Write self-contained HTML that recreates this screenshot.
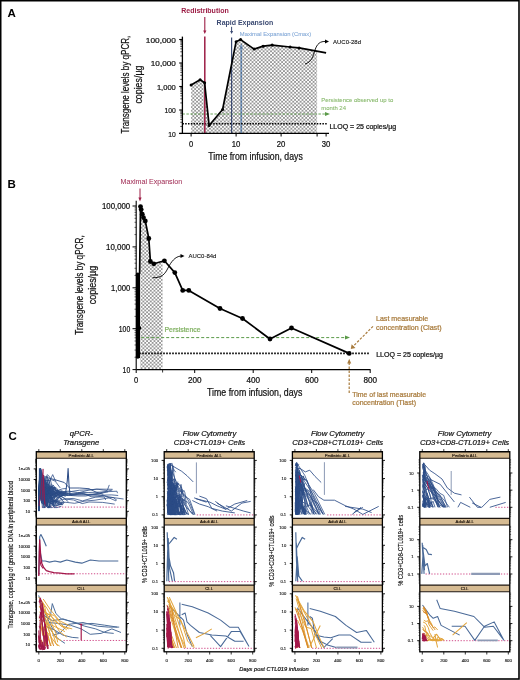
<!DOCTYPE html>
<html><head><meta charset="utf-8"><style>
html,body{margin:0;padding:0;background:#fff;}
svg{display:block;font-family:"Liberation Sans",sans-serif;will-change:transform;}
</style></head><body>
<svg width="520" height="680" viewBox="0 0 520 680">
<defs>
<pattern id="dots" width="3.7" height="3.6" patternUnits="userSpaceOnUse">
<circle cx="0.925" cy="0.9" r="0.75" fill="#111"/><circle cx="2.775" cy="2.7" r="0.75" fill="#111"/>
</pattern>
</defs>
<rect x="0" y="0" width="520" height="680" fill="#fff"/>
<text x="7.6" y="17.3" font-size="11.5" font-weight="bold" fill="#000">A</text>
<line x1="241.20" y1="46.00" x2="241.20" y2="133.50" stroke="#80a7d6" stroke-width="1.6"/>
<path d="M239.4,49 L243.0,49 L241.2,43 Z" fill="#80a7d6"/>
<path d="M191.10,84.99 L200.10,79.68 L204.60,82.78 L209.10,125.45 L222.60,109.50 L236.10,41.65 L240.60,39.60 L254.10,49.11 L263.10,46.17 L272.10,45.06 L290.10,46.99 L299.10,47.88 L317.10,51.22 L317.10,133.50 L191.10,133.50" stroke="none" stroke-width="0" fill="url(#dots)"/>
<line x1="182.40" y1="123.80" x2="327.50" y2="123.80" stroke="#000" stroke-width="1.6" stroke-dasharray="1.5,1.3"/>
<line x1="182.40" y1="114.00" x2="326.00" y2="114.00" stroke="#5a9a48" stroke-width="0.9" stroke-dasharray="2.5,1.5"/>
<path d="M325,112 L330,114 L325,116 Z" fill="#5a9a48"/>
<line x1="204.80" y1="36.50" x2="204.80" y2="133.50" stroke="#9c1d45" stroke-width="1.5"/>
<line x1="204.80" y1="17.00" x2="204.80" y2="31.00" stroke="#9c1d45" stroke-width="1.1"/>
<path d="M203.2,30.5 L206.4,30.5 L204.8,34 Z" fill="#9c1d45"/>
<line x1="231.60" y1="37.40" x2="231.60" y2="133.50" stroke="#3b4a72" stroke-width="1.2"/>
<line x1="231.60" y1="26.80" x2="231.60" y2="31.50" stroke="#3b4a72" stroke-width="1.0"/>
<path d="M230.1,31 L233.1,31 L231.6,34 Z" fill="#3b4a72"/>
<path d="M191.10,84.99 L200.10,79.68 L204.60,82.78 L209.10,125.45 L222.60,109.50 L236.10,41.65 L240.60,39.60 L254.10,49.11 L263.10,46.17 L272.10,45.06 L290.10,46.99 L299.10,47.88 L326.10,52.90" stroke="#000" stroke-width="1.7" fill="none" stroke-linejoin="round"/>
<circle cx="191.10" cy="84.99" r="1.5" fill="#000"/>
<circle cx="200.10" cy="79.68" r="1.5" fill="#000"/>
<circle cx="204.60" cy="82.78" r="1.5" fill="#000"/>
<circle cx="209.10" cy="125.45" r="1.5" fill="#000"/>
<circle cx="222.60" cy="109.50" r="1.5" fill="#000"/>
<circle cx="236.10" cy="41.65" r="1.5" fill="#000"/>
<circle cx="240.60" cy="39.60" r="1.5" fill="#000"/>
<circle cx="254.10" cy="49.11" r="1.5" fill="#000"/>
<circle cx="263.10" cy="46.17" r="1.5" fill="#000"/>
<circle cx="272.10" cy="45.06" r="1.5" fill="#000"/>
<circle cx="290.10" cy="46.99" r="1.5" fill="#000"/>
<circle cx="299.10" cy="47.88" r="1.5" fill="#000"/>
<line x1="182.40" y1="36.60" x2="182.40" y2="133.40" stroke="#000" stroke-width="1.3"/>
<line x1="179.20" y1="133.40" x2="329.00" y2="133.40" stroke="#000" stroke-width="1.2"/>
<line x1="179.20" y1="133.50" x2="182.40" y2="133.50" stroke="#000" stroke-width="1.1"/>
<line x1="180.30" y1="126.43" x2="182.40" y2="126.43" stroke="#000" stroke-width="0.7"/>
<line x1="180.30" y1="122.29" x2="182.40" y2="122.29" stroke="#000" stroke-width="0.7"/>
<line x1="180.30" y1="119.35" x2="182.40" y2="119.35" stroke="#000" stroke-width="0.7"/>
<line x1="180.30" y1="117.07" x2="182.40" y2="117.07" stroke="#000" stroke-width="0.7"/>
<line x1="180.30" y1="115.21" x2="182.40" y2="115.21" stroke="#000" stroke-width="0.7"/>
<line x1="180.30" y1="113.64" x2="182.40" y2="113.64" stroke="#000" stroke-width="0.7"/>
<line x1="180.30" y1="112.28" x2="182.40" y2="112.28" stroke="#000" stroke-width="0.7"/>
<line x1="180.30" y1="111.08" x2="182.40" y2="111.08" stroke="#000" stroke-width="0.7"/>
<line x1="179.20" y1="110.00" x2="182.40" y2="110.00" stroke="#000" stroke-width="1.1"/>
<line x1="180.30" y1="102.93" x2="182.40" y2="102.93" stroke="#000" stroke-width="0.7"/>
<line x1="180.30" y1="98.79" x2="182.40" y2="98.79" stroke="#000" stroke-width="0.7"/>
<line x1="180.30" y1="95.85" x2="182.40" y2="95.85" stroke="#000" stroke-width="0.7"/>
<line x1="180.30" y1="93.57" x2="182.40" y2="93.57" stroke="#000" stroke-width="0.7"/>
<line x1="180.30" y1="91.71" x2="182.40" y2="91.71" stroke="#000" stroke-width="0.7"/>
<line x1="180.30" y1="90.14" x2="182.40" y2="90.14" stroke="#000" stroke-width="0.7"/>
<line x1="180.30" y1="88.78" x2="182.40" y2="88.78" stroke="#000" stroke-width="0.7"/>
<line x1="180.30" y1="87.58" x2="182.40" y2="87.58" stroke="#000" stroke-width="0.7"/>
<line x1="179.20" y1="86.50" x2="182.40" y2="86.50" stroke="#000" stroke-width="1.1"/>
<line x1="180.30" y1="79.43" x2="182.40" y2="79.43" stroke="#000" stroke-width="0.7"/>
<line x1="180.30" y1="75.29" x2="182.40" y2="75.29" stroke="#000" stroke-width="0.7"/>
<line x1="180.30" y1="72.35" x2="182.40" y2="72.35" stroke="#000" stroke-width="0.7"/>
<line x1="180.30" y1="70.07" x2="182.40" y2="70.07" stroke="#000" stroke-width="0.7"/>
<line x1="180.30" y1="68.21" x2="182.40" y2="68.21" stroke="#000" stroke-width="0.7"/>
<line x1="180.30" y1="66.64" x2="182.40" y2="66.64" stroke="#000" stroke-width="0.7"/>
<line x1="180.30" y1="65.28" x2="182.40" y2="65.28" stroke="#000" stroke-width="0.7"/>
<line x1="180.30" y1="64.08" x2="182.40" y2="64.08" stroke="#000" stroke-width="0.7"/>
<line x1="179.20" y1="63.00" x2="182.40" y2="63.00" stroke="#000" stroke-width="1.1"/>
<line x1="180.30" y1="55.93" x2="182.40" y2="55.93" stroke="#000" stroke-width="0.7"/>
<line x1="180.30" y1="51.79" x2="182.40" y2="51.79" stroke="#000" stroke-width="0.7"/>
<line x1="180.30" y1="48.85" x2="182.40" y2="48.85" stroke="#000" stroke-width="0.7"/>
<line x1="180.30" y1="46.57" x2="182.40" y2="46.57" stroke="#000" stroke-width="0.7"/>
<line x1="180.30" y1="44.71" x2="182.40" y2="44.71" stroke="#000" stroke-width="0.7"/>
<line x1="180.30" y1="43.14" x2="182.40" y2="43.14" stroke="#000" stroke-width="0.7"/>
<line x1="180.30" y1="41.78" x2="182.40" y2="41.78" stroke="#000" stroke-width="0.7"/>
<line x1="180.30" y1="40.58" x2="182.40" y2="40.58" stroke="#000" stroke-width="0.7"/>
<line x1="179.20" y1="39.50" x2="182.40" y2="39.50" stroke="#000" stroke-width="1.1"/>
<text x="175.8" y="136.5" font-size="8.0" text-anchor="end" fill="#111" textLength="7.5" lengthAdjust="spacingAndGlyphs" stroke="#111" stroke-width="0.22">10</text>
<text x="175.8" y="113.0" font-size="8.0" text-anchor="end" fill="#111" textLength="11.3" lengthAdjust="spacingAndGlyphs" stroke="#111" stroke-width="0.22">100</text>
<text x="175.8" y="89.5" font-size="8.0" text-anchor="end" fill="#111" textLength="18.9" lengthAdjust="spacingAndGlyphs" stroke="#111" stroke-width="0.22">1,000</text>
<text x="175.8" y="66.0" font-size="8.0" text-anchor="end" fill="#111" textLength="25.0" lengthAdjust="spacingAndGlyphs" stroke="#111" stroke-width="0.22">10,000</text>
<text x="175.8" y="42.5" font-size="8.0" text-anchor="end" fill="#111" textLength="30.0" lengthAdjust="spacingAndGlyphs" stroke="#111" stroke-width="0.22">100,000</text>
<line x1="191.10" y1="133.50" x2="191.10" y2="136.50" stroke="#000" stroke-width="1.0"/>
<text x="191.1" y="146.5" font-size="8.3" text-anchor="middle" fill="#111" textLength="4.2" lengthAdjust="spacingAndGlyphs" stroke="#111" stroke-width="0.22">0</text>
<line x1="236.10" y1="133.50" x2="236.10" y2="136.50" stroke="#000" stroke-width="1.0"/>
<text x="236.1" y="146.5" font-size="8.3" text-anchor="middle" fill="#111" textLength="8.6" lengthAdjust="spacingAndGlyphs" stroke="#111" stroke-width="0.22">10</text>
<line x1="281.10" y1="133.50" x2="281.10" y2="136.50" stroke="#000" stroke-width="1.0"/>
<text x="281.1" y="146.5" font-size="8.3" text-anchor="middle" fill="#111" textLength="8.6" lengthAdjust="spacingAndGlyphs" stroke="#111" stroke-width="0.22">20</text>
<line x1="326.10" y1="133.50" x2="326.10" y2="136.50" stroke="#000" stroke-width="1.0"/>
<text x="326.1" y="146.5" font-size="8.3" text-anchor="middle" fill="#111" textLength="8.6" lengthAdjust="spacingAndGlyphs" stroke="#111" stroke-width="0.22">30</text>
<line x1="317.10" y1="133.50" x2="317.10" y2="136.50" stroke="#000" stroke-width="1.0"/>
<text x="255.5" y="160" font-size="10" text-anchor="middle" fill="#111" textLength="94.5" lengthAdjust="spacingAndGlyphs" stroke="#111" stroke-width="0.22">Time from infusion, days</text>
<g transform="translate(129.2,84.6) rotate(-90)">
<text x="0" y="0" font-size="10.2" text-anchor="middle" fill="#111" textLength="97.8" lengthAdjust="spacingAndGlyphs" stroke="#111" stroke-width="0.22">Transgene levels by qPCR,</text>
<text x="0" y="12.4" font-size="10.2" text-anchor="middle" fill="#111" textLength="38" lengthAdjust="spacingAndGlyphs" stroke="#111" stroke-width="0.22">copies/µg</text>
</g>
<text x="181.2" y="13.1" font-size="7" font-weight="bold" fill="#9c1d45" textLength="47.6" lengthAdjust="spacingAndGlyphs">Redistribution</text>
<text x="216.6" y="24.7" font-size="7" font-weight="bold" fill="#3b4a72" textLength="56.6" lengthAdjust="spacingAndGlyphs">Rapid Expansion</text>
<text x="239.8" y="35.8" font-size="5.9" fill="#80a7d6" textLength="71.4" lengthAdjust="spacingAndGlyphs" stroke="#80a7d6" stroke-width="0.08">Maximal Expansion (Cmax)</text>
<text x="333" y="43.8" font-size="5.6" fill="#111" textLength="28" lengthAdjust="spacingAndGlyphs" stroke="#111" stroke-width="0.1">AUC0-28d</text>
<path d="M305,64 C312,62 313,56 315,50 C317,44 320,41 326,41.5" stroke="#000" stroke-width="0.9" fill="none"/>
<path d="M325,39.5 L329,41.5 L325,43.5 Z" fill="#000"/>
<text x="321.2" y="102" font-size="5.9" fill="#86b86a" textLength="72" lengthAdjust="spacingAndGlyphs" stroke="#86b86a" stroke-width="0.08">Persistence observed up to</text>
<text x="321.2" y="109.7" font-size="5.9" fill="#86b86a" textLength="24.8" lengthAdjust="spacingAndGlyphs" stroke="#86b86a" stroke-width="0.08">month 24</text>
<text x="329.4" y="128.6" font-size="6.9" fill="#111" textLength="66.8" lengthAdjust="spacingAndGlyphs" stroke="#111" stroke-width="0.22">LLOQ = 25 copies/µg</text>
<text x="7.6" y="187.6" font-size="11.5" font-weight="bold" fill="#000">B</text>
<text x="8.4" y="440.3" font-size="11.5" font-weight="bold" fill="#000">C</text>
<path d="M140.20,274.00 L140.50,206.60 L141.20,209.60 L142.30,214.20 L143.50,217.70 L145.30,221.00 L148.80,238.50 L150.40,261.50 L153.80,263.80 L162.60,261.31 L162.60,369.60 L140.20,369.60" stroke="none" stroke-width="0" fill="url(#dots)"/>
<line x1="136.20" y1="353.40" x2="369.50" y2="353.40" stroke="#000" stroke-width="1.7" stroke-dasharray="1.6,1.4"/>
<line x1="136.20" y1="337.60" x2="346.00" y2="337.60" stroke="#5a9a48" stroke-width="1.0" stroke-dasharray="3,2"/>
<path d="M345,335.6 L350,337.6 L345,339.6 Z" fill="#5a9a48"/>
<text x="164.5" y="332.3" font-size="7.0" fill="#7fb060" textLength="36" lengthAdjust="spacingAndGlyphs" stroke="#7fb060" stroke-width="0.22">Persistence</text>
<path d="M139.60,274.00 L140.50,206.60 L141.20,209.60 L142.30,214.20 L143.50,217.70 L145.30,221.00 L148.80,238.50 L150.40,261.50 L153.80,263.80 L164.40,260.80 L174.80,272.60 L182.70,290.40 L188.80,290.40 L220.00,308.50 L242.50,318.50 L270.00,339.00 L291.50,328.00 L349.20,353.40" stroke="#000" stroke-width="1.7" fill="none" stroke-linejoin="round"/>
<circle cx="140.50" cy="206.60" r="2.4" fill="#000"/>
<circle cx="141.20" cy="209.60" r="2.4" fill="#000"/>
<circle cx="142.30" cy="214.20" r="2.4" fill="#000"/>
<circle cx="143.50" cy="217.70" r="2.4" fill="#000"/>
<circle cx="145.30" cy="221.00" r="2.4" fill="#000"/>
<circle cx="148.80" cy="238.50" r="2.4" fill="#000"/>
<circle cx="150.40" cy="261.50" r="2.4" fill="#000"/>
<circle cx="153.80" cy="263.80" r="2.4" fill="#000"/>
<circle cx="164.40" cy="260.80" r="2.4" fill="#000"/>
<circle cx="174.80" cy="272.60" r="2.4" fill="#000"/>
<circle cx="182.70" cy="290.40" r="2.4" fill="#000"/>
<circle cx="188.80" cy="290.40" r="2.4" fill="#000"/>
<circle cx="220.00" cy="308.50" r="2.4" fill="#000"/>
<circle cx="242.50" cy="318.50" r="2.4" fill="#000"/>
<circle cx="270.00" cy="339.00" r="2.4" fill="#000"/>
<circle cx="291.50" cy="328.00" r="2.4" fill="#000"/>
<circle cx="349.20" cy="353.40" r="2.4" fill="#000"/>
<rect x="136" y="273" width="4.0" height="85" fill="#000"/>
<circle cx="137.80" cy="274.50" r="2.0" fill="#000"/>
<circle cx="137.80" cy="287.00" r="2.0" fill="#000"/>
<circle cx="139.30" cy="328.00" r="2.0" fill="#000"/>
<circle cx="137.80" cy="356.80" r="2.0" fill="#000"/>
<line x1="136.20" y1="200.80" x2="136.20" y2="369.60" stroke="#000" stroke-width="1.1"/>
<line x1="136.20" y1="369.60" x2="370.50" y2="369.60" stroke="#000" stroke-width="1.1"/>
<line x1="132.50" y1="369.60" x2="136.20" y2="369.60" stroke="#000" stroke-width="1.0"/>
<line x1="134.50" y1="357.29" x2="136.20" y2="357.29" stroke="#000" stroke-width="0.6"/>
<line x1="134.50" y1="350.09" x2="136.20" y2="350.09" stroke="#000" stroke-width="0.6"/>
<line x1="134.50" y1="344.98" x2="136.20" y2="344.98" stroke="#000" stroke-width="0.6"/>
<line x1="134.50" y1="341.01" x2="136.20" y2="341.01" stroke="#000" stroke-width="0.6"/>
<line x1="134.50" y1="337.77" x2="136.20" y2="337.77" stroke="#000" stroke-width="0.6"/>
<line x1="134.50" y1="335.04" x2="136.20" y2="335.04" stroke="#000" stroke-width="0.6"/>
<line x1="134.50" y1="332.66" x2="136.20" y2="332.66" stroke="#000" stroke-width="0.6"/>
<line x1="134.50" y1="330.57" x2="136.20" y2="330.57" stroke="#000" stroke-width="0.6"/>
<line x1="132.50" y1="328.70" x2="136.20" y2="328.70" stroke="#000" stroke-width="1.0"/>
<line x1="134.50" y1="316.39" x2="136.20" y2="316.39" stroke="#000" stroke-width="0.6"/>
<line x1="134.50" y1="309.19" x2="136.20" y2="309.19" stroke="#000" stroke-width="0.6"/>
<line x1="134.50" y1="304.08" x2="136.20" y2="304.08" stroke="#000" stroke-width="0.6"/>
<line x1="134.50" y1="300.11" x2="136.20" y2="300.11" stroke="#000" stroke-width="0.6"/>
<line x1="134.50" y1="296.87" x2="136.20" y2="296.87" stroke="#000" stroke-width="0.6"/>
<line x1="134.50" y1="294.14" x2="136.20" y2="294.14" stroke="#000" stroke-width="0.6"/>
<line x1="134.50" y1="291.76" x2="136.20" y2="291.76" stroke="#000" stroke-width="0.6"/>
<line x1="134.50" y1="289.67" x2="136.20" y2="289.67" stroke="#000" stroke-width="0.6"/>
<line x1="132.50" y1="287.80" x2="136.20" y2="287.80" stroke="#000" stroke-width="1.0"/>
<line x1="134.50" y1="275.49" x2="136.20" y2="275.49" stroke="#000" stroke-width="0.6"/>
<line x1="134.50" y1="268.29" x2="136.20" y2="268.29" stroke="#000" stroke-width="0.6"/>
<line x1="134.50" y1="263.18" x2="136.20" y2="263.18" stroke="#000" stroke-width="0.6"/>
<line x1="134.50" y1="259.21" x2="136.20" y2="259.21" stroke="#000" stroke-width="0.6"/>
<line x1="134.50" y1="255.97" x2="136.20" y2="255.97" stroke="#000" stroke-width="0.6"/>
<line x1="134.50" y1="253.24" x2="136.20" y2="253.24" stroke="#000" stroke-width="0.6"/>
<line x1="134.50" y1="250.86" x2="136.20" y2="250.86" stroke="#000" stroke-width="0.6"/>
<line x1="134.50" y1="248.77" x2="136.20" y2="248.77" stroke="#000" stroke-width="0.6"/>
<line x1="132.50" y1="246.90" x2="136.20" y2="246.90" stroke="#000" stroke-width="1.0"/>
<line x1="134.50" y1="234.59" x2="136.20" y2="234.59" stroke="#000" stroke-width="0.6"/>
<line x1="134.50" y1="227.39" x2="136.20" y2="227.39" stroke="#000" stroke-width="0.6"/>
<line x1="134.50" y1="222.28" x2="136.20" y2="222.28" stroke="#000" stroke-width="0.6"/>
<line x1="134.50" y1="218.31" x2="136.20" y2="218.31" stroke="#000" stroke-width="0.6"/>
<line x1="134.50" y1="215.07" x2="136.20" y2="215.07" stroke="#000" stroke-width="0.6"/>
<line x1="134.50" y1="212.34" x2="136.20" y2="212.34" stroke="#000" stroke-width="0.6"/>
<line x1="134.50" y1="209.96" x2="136.20" y2="209.96" stroke="#000" stroke-width="0.6"/>
<line x1="134.50" y1="207.87" x2="136.20" y2="207.87" stroke="#000" stroke-width="0.6"/>
<line x1="132.50" y1="206.00" x2="136.20" y2="206.00" stroke="#000" stroke-width="1.0"/>
<text x="130.2" y="372.6" font-size="8.3" text-anchor="end" fill="#111" textLength="7.6" lengthAdjust="spacingAndGlyphs" stroke="#111" stroke-width="0.22">10</text>
<text x="130.2" y="331.70000000000005" font-size="8.3" text-anchor="end" fill="#111" textLength="11.4" lengthAdjust="spacingAndGlyphs" stroke="#111" stroke-width="0.22">100</text>
<text x="130.2" y="290.8" font-size="8.3" text-anchor="end" fill="#111" textLength="19.2" lengthAdjust="spacingAndGlyphs" stroke="#111" stroke-width="0.22">1,000</text>
<text x="130.2" y="249.90000000000003" font-size="8.3" text-anchor="end" fill="#111" textLength="24.2" lengthAdjust="spacingAndGlyphs" stroke="#111" stroke-width="0.22">10,000</text>
<text x="130.2" y="209.00000000000003" font-size="8.3" text-anchor="end" fill="#111" textLength="28.2" lengthAdjust="spacingAndGlyphs" stroke="#111" stroke-width="0.22">100,000</text>
<line x1="136.20" y1="369.60" x2="136.20" y2="373.00" stroke="#000" stroke-width="1.0"/>
<text x="136.2" y="383.2" font-size="8.3" text-anchor="middle" fill="#111" textLength="4.2" lengthAdjust="spacingAndGlyphs" stroke="#111" stroke-width="0.22">0</text>
<line x1="194.70" y1="369.60" x2="194.70" y2="373.00" stroke="#000" stroke-width="1.0"/>
<text x="194.7" y="383.2" font-size="8.3" text-anchor="middle" fill="#111" textLength="13.6" lengthAdjust="spacingAndGlyphs" stroke="#111" stroke-width="0.22">200</text>
<line x1="253.20" y1="369.60" x2="253.20" y2="373.00" stroke="#000" stroke-width="1.0"/>
<text x="253.2" y="383.2" font-size="8.3" text-anchor="middle" fill="#111" textLength="13.6" lengthAdjust="spacingAndGlyphs" stroke="#111" stroke-width="0.22">400</text>
<line x1="311.70" y1="369.60" x2="311.70" y2="373.00" stroke="#000" stroke-width="1.0"/>
<text x="311.7" y="383.2" font-size="8.3" text-anchor="middle" fill="#111" textLength="13.6" lengthAdjust="spacingAndGlyphs" stroke="#111" stroke-width="0.22">600</text>
<line x1="370.20" y1="369.60" x2="370.20" y2="373.00" stroke="#000" stroke-width="1.0"/>
<text x="370.2" y="383.2" font-size="8.3" text-anchor="middle" fill="#111" textLength="13.6" lengthAdjust="spacingAndGlyphs" stroke="#111" stroke-width="0.22">800</text>
<line x1="162.60" y1="369.60" x2="162.60" y2="372.50" stroke="#000" stroke-width="0.8"/>
<text x="254.7" y="396.2" font-size="10" text-anchor="middle" fill="#111" textLength="95.3" lengthAdjust="spacingAndGlyphs" stroke="#111" stroke-width="0.22">Time from infusion, days</text>
<g transform="translate(83.3,285) rotate(-90)">
<text x="0" y="0" font-size="10.2" text-anchor="middle" fill="#111" textLength="99.5" lengthAdjust="spacingAndGlyphs" stroke="#111" stroke-width="0.22">Transgene levels by qPCR,</text>
<text x="0" y="12.4" font-size="10.2" text-anchor="middle" fill="#111" textLength="38.5" lengthAdjust="spacingAndGlyphs" stroke="#111" stroke-width="0.22">copies/µg</text>
</g>
<text x="120.6" y="184" font-size="6.6" fill="#a3335a" textLength="61.5" lengthAdjust="spacingAndGlyphs" stroke="#a3335a" stroke-width="0.05">Maximal Expansion</text>
<line x1="140.00" y1="188.50" x2="140.00" y2="198.00" stroke="#9c1d45" stroke-width="1.0"/>
<path d="M138.4,197.5 L141.6,197.5 L140,201.5 Z" fill="#9c1d45"/>
<text x="188.4" y="257.5" font-size="5.6" fill="#111" textLength="28" lengthAdjust="spacingAndGlyphs" stroke="#111" stroke-width="0.1">AUC0-84d</text>
<path d="M152.7,277.7 C162,278 165,274 168,268 C171,262 175,256.5 181,256" stroke="#000" stroke-width="0.9" fill="none"/>
<path d="M180.5,254 L184.5,256 L180.5,258 Z" fill="#000"/>
<text x="376.2" y="357.0" font-size="6.9" fill="#111" textLength="66.8" lengthAdjust="spacingAndGlyphs" stroke="#111" stroke-width="0.22">LLOQ = 25 copies/µg</text>
<text x="376" y="321.4" font-size="6.6" fill="#a97c3e" textLength="52.3" lengthAdjust="spacingAndGlyphs" stroke="#a97c3e" stroke-width="0.22">Last measurable</text>
<text x="376" y="329.9" font-size="6.6" fill="#a97c3e" textLength="65.5" lengthAdjust="spacingAndGlyphs" stroke="#a97c3e" stroke-width="0.22">concentration (Clast)</text>
<text x="352.3" y="396.9" font-size="6.6" fill="#a97c3e" textLength="73.7" lengthAdjust="spacingAndGlyphs" stroke="#a97c3e" stroke-width="0.22">Time of last measurable</text>
<text x="352.3" y="405.4" font-size="6.6" fill="#a97c3e" textLength="63.7" lengthAdjust="spacingAndGlyphs" stroke="#a97c3e" stroke-width="0.22">concentration (Tlast)</text>
<line x1="373.00" y1="326.30" x2="352.50" y2="347.00" stroke="#a97c3e" stroke-width="1.2" stroke-dasharray="2.5,1.5"/>
<path d="M350.8,349 L351.6,344.3 L355.5,348 Z" fill="#a97c3e"/>
<line x1="349.20" y1="393.00" x2="349.20" y2="362.50" stroke="#a97c3e" stroke-width="1.2" stroke-dasharray="2.5,1.5"/>
<path d="M347.2,363.5 L351.2,363.5 L349.2,358.8 Z" fill="#a97c3e"/>
<defs><clipPath id="cp00"><rect x="36.8" y="458.6" width="89.0" height="59.5"/></clipPath><clipPath id="cp01"><rect x="36.8" y="525.3" width="89.0" height="59.5"/></clipPath><clipPath id="cp02"><rect x="36.8" y="592.0" width="89.0" height="59.5"/></clipPath><clipPath id="cp10"><rect x="164.7" y="458.6" width="89.0" height="59.5"/></clipPath><clipPath id="cp11"><rect x="164.7" y="525.3" width="89.0" height="59.5"/></clipPath><clipPath id="cp12"><rect x="164.7" y="592.0" width="89.0" height="59.5"/></clipPath><clipPath id="cp20"><rect x="292.9" y="458.6" width="89.0" height="59.5"/></clipPath><clipPath id="cp21"><rect x="292.9" y="525.3" width="89.0" height="59.5"/></clipPath><clipPath id="cp22"><rect x="292.9" y="592.0" width="89.0" height="59.5"/></clipPath><clipPath id="cp30"><rect x="420.3" y="458.6" width="89.0" height="59.5"/></clipPath><clipPath id="cp31"><rect x="420.3" y="525.3" width="89.0" height="59.5"/></clipPath><clipPath id="cp32"><rect x="420.3" y="592.0" width="89.0" height="59.5"/></clipPath></defs>
<g clip-path="url(#cp00)">
<line x1="38.80" y1="507.08" x2="128.02" y2="507.08" stroke="#cc3a7e" stroke-width="0.9" stroke-dasharray="1.3,1.6"/>
<path d="M38.8,502.9 L40.7,489.0 L41.9,486.2 L43.1,488.9 L44.7,488.6 L46.3,482.7 L48.8,478.5 M39.0,502.9 L39.4,468.4 L40.3,480.1 L41.3,482.5 M39.0,499.2 L39.5,485.9 L40.4,489.5 L41.5,500.5 L43.0,501.7 M38.8,506.0 L40.6,486.1 L41.7,495.2 L43.0,496.5 L44.8,492.4 L46.5,492.4 L48.8,490.3 L52.5,495.5 M38.9,492.7 L40.5,483.1 L41.6,496.3 L43.2,493.6 L44.9,495.2 L47.2,496.8 L50.0,487.6 L52.8,490.8 L56.4,492.7 M39.0,500.8 L39.8,485.2 L40.8,489.5 L42.1,494.3 L43.5,494.5 M38.9,493.0 L40.0,483.9 L41.1,483.8 L42.2,487.1 L43.6,488.0 M38.9,508.2 L40.3,478.2 L41.3,480.7 L42.8,481.1 L44.6,490.2 L46.5,485.9 M38.8,502.8 L40.4,487.8 L41.3,500.2 L42.5,497.5 L43.8,494.3 L45.2,494.6 L47.2,494.3 L49.1,491.3 L51.5,498.7 L54.5,501.4 L57.7,499.2 M39.0,504.7 L40.5,486.9 L41.7,492.6 L42.9,499.6 L44.9,503.5 L47.4,495.8 L50.5,498.4 L53.0,491.5 M39.0,507.8 L40.2,472.9 L41.2,480.7 L42.7,478.7 L44.6,482.9 L46.8,496.9 L49.0,502.2 L51.1,501.7 L53.5,501.6 L58.0,499.6 M38.8,496.0 L40.9,482.3 L42.0,489.8 L43.4,489.5 L45.6,490.4 L48.3,491.0 L50.9,496.8 L53.5,502.0 M38.9,501.2 L40.6,486.1 L41.9,483.6 L43.2,487.6 L45.3,489.8 L47.1,493.6 L49.1,486.1 L51.5,493.2 L55.8,490.5 L59.8,491.5 L65.4,491.7 M38.8,495.4 L40.9,487.0 L42.3,492.4 L43.5,495.2 L45.5,492.9 L47.6,505.5 L49.6,507.5 L53.1,500.7 L57.8,503.4 L62.8,502.1 M38.8,510.9 L39.6,480.3 L40.6,494.7 L41.7,502.9 L43.1,499.4 M38.8,501.1 L40.8,472.8 L41.8,479.0 L43.2,484.5 L44.6,487.3 L46.4,491.6 L49.5,495.8 L52.2,498.0 L55.9,496.7 M39.0,491.3 L40.2,484.3 L41.4,491.7 L42.6,487.5 L43.8,484.9 L45.5,480.4 L48.0,480.7 L51.5,479.7 L55.4,481.2 M38.9,506.6 L40.0,468.9 L41.1,474.4 L42.3,481.8 L43.9,485.8 M38.9,504.1 L40.5,479.9 L41.6,484.1 L42.9,487.2 L44.8,492.0 L46.6,493.2 L48.8,496.8 L52.4,494.3 L56.9,493.6 L62.8,497.4 L68.4,501.7 M38.9,496.5 L39.4,488.1 L40.3,480.7 L41.4,481.0 L42.9,478.0 L44.2,479.5 L46.5,489.3 L49.1,490.3 L52.9,492.5 L56.8,492.7 M38.9,505.7 L40.8,486.1 L42.1,485.5 M39.0,510.9 L39.4,484.5 L40.2,484.9 L41.2,501.1 L42.4,498.9 L44.1,504.2 L46.3,500.4 M39.0,506.7 L39.7,485.0 L40.6,481.2 L41.9,476.9 L43.6,478.5 L45.7,485.6 L47.9,484.1 L50.4,487.4 L53.8,485.7 M39.0,508.0 L39.8,480.2 L40.8,487.5 L42.0,490.6 M38.9,504.2 L39.8,488.2 L40.7,480.9 L42.0,481.1 L43.2,483.9 L45.0,493.7 L47.3,494.3 L49.3,488.3 M38.9,498.7 L40.5,473.1 L41.6,482.1 L43.0,480.1 L44.8,477.2 L46.9,489.0 L49.4,486.8 L53.3,488.5 L58.0,491.8 L61.4,493.0 L67.9,495.4 M38.8,510.6 L39.9,487.1 L41.0,498.5 L42.3,502.1 L43.9,502.4 L46.0,502.2 L48.7,507.6 L51.9,505.7 L54.5,504.7 L57.6,504.9 L61.7,504.0 M39.0,503.2 L40.4,479.4 L41.6,488.8 L43.0,489.3 L44.5,490.8 L46.8,495.1 L48.6,490.0 L50.8,493.3 L54.5,487.6 M39.0,505.2 L40.6,479.7 L41.7,485.2 L43.1,486.1 L44.7,483.6 L47.2,484.3 M38.8,491.3 L40.3,485.4 L41.4,488.9 L42.8,494.3 L44.5,491.4 L46.2,500.1 L49.1,501.9 L51.2,501.9 M38.8,495.9 L39.9,480.8 L40.9,489.0 L42.1,488.6 L43.8,491.9 L45.9,493.6 L47.9,491.0 L51.2,491.8 L53.8,487.1 M38.9,493.6 L40.8,483.7 L42.0,494.5 L43.4,496.2 L45.6,494.7 M38.8,492.7 L39.7,477.8 L40.7,490.7 L41.7,490.0 L43.3,503.6 L45.1,500.9 L46.9,503.5 L49.0,499.9 L52.5,502.3 L55.6,502.5 L60.0,501.6 M39.0,492.1 L39.7,479.0 L40.7,489.3 L41.9,491.8 L43.1,493.1 M38.8,503.5 L39.7,472.1 L40.7,487.8 L41.7,486.8 L43.0,491.5 M38.8,500.6 L40.7,476.1 L41.8,491.4 L43.1,499.9 L45.2,498.2 L47.7,499.4 M38.8,494.2 L40.1,468.5 L41.3,477.6 L42.8,488.0 L44.3,490.4 L46.6,490.6 L49.7,488.5 L52.1,486.4 L56.6,490.8 L62.5,488.8 L66.4,488.5 M38.9,497.6 L39.5,483.3 L40.5,486.2 L41.5,489.5 L42.8,493.6 L44.3,494.5 L46.3,488.7 L48.7,488.7 L52.4,495.0 L56.1,495.8 L59.8,493.5 M38.8,507.2 L40.4,470.4 L41.4,470.4 L42.7,486.3 L44.4,488.8 L46.7,497.6 M38.9,500.6 L40.9,485.5 L42.2,484.4 L43.6,485.9 L45.2,480.3 M38.8,492.3 L40.8,479.3 L42.0,483.4 L43.2,488.2 L45.0,497.1 L46.8,492.5 L49.2,494.4 L51.6,498.6 L54.2,495.8 M38.9,510.6 L39.9,475.3 L40.9,478.7 L42.0,479.7 L43.4,484.1 L45.5,478.3 L47.4,474.6 L49.8,477.1 L52.9,490.5 L55.6,492.8 M38.9,495.7 L40.4,479.5 L41.5,486.0 L42.8,494.7 L44.6,492.9 M39.0,492.3 L39.8,482.6 L40.8,486.6 L41.9,481.1 L43.2,477.1 L45.2,482.3 M39.0,506.3 L40.9,479.5 L42.0,488.7 M39.0,494.3 L40.7,473.7 L41.9,478.8 L43.2,489.1 L45.1,489.7 L46.8,491.7 L49.0,488.0 L51.2,487.2 L54.3,491.4 M38.9,505.7 L39.5,488.2 L40.4,491.5 L41.5,489.2 L42.9,492.5 M38.9,494.8 L39.8,483.6 L40.7,493.7 L41.8,496.0 L43.1,493.6 L44.6,490.6 L46.2,492.9 L48.3,492.5 L51.3,486.6 L54.0,489.9 L56.7,490.6 L62.6,491.0 M38.8,510.2 L40.7,476.7 L41.7,480.3 L43.1,485.0 L45.0,485.1 L47.3,484.1 M38.9,503.5 L39.7,487.0 L40.6,492.0 L41.8,495.3 L43.2,497.0 L45.0,497.1 L46.8,495.1 M38.8,502.6 L40.4,472.4 L41.5,483.8 L42.8,492.5 L44.7,496.6 L46.3,501.2 L49.1,496.1 L51.2,499.8 L55.3,498.2 M39.0,511.2 L40.0,470.0 L41.0,487.8 L42.4,495.7 L43.7,497.3 L45.5,505.7 L47.3,507.6 L50.1,507.6 M39.0,507.7 L40.0,488.6 L41.0,489.6 L42.4,497.2 L43.6,490.6 L45.8,497.6 M39.0,498.1 L39.6,471.7 L40.5,472.0 L41.6,473.1 L42.8,486.3 M39.0,508.0 L39.6,482.1 L40.5,481.1 L41.8,474.6 L43.3,481.8 L44.9,488.0 L47.0,483.6 L49.8,492.2 M38.8,497.3 L40.0,480.2 L41.1,490.0 L42.5,492.7 L44.2,497.6 M38.9,503.7 L40.6,482.0 L41.8,489.2 L43.0,487.3 M39.0,510.1 L39.9,478.9 L40.9,477.3 L42.2,476.4 L43.9,483.7 L45.5,482.8 L48.3,488.3 L51.8,487.0 L56.4,487.9 L59.7,492.7 L63.8,491.8 M38.9,501.6 L40.9,484.4 L42.1,488.9 L43.6,491.5 L45.1,496.5 L47.0,490.2 M38.9,494.7 L40.2,487.5 L41.2,488.7 L42.5,498.0 L44.4,487.9 L46.5,484.0 L48.8,489.5 M38.9,504.3 L39.7,488.3 L40.7,497.1 L41.8,503.4 L43.5,503.8 L45.6,494.5 L48.1,502.0 L51.4,501.8 L55.1,501.0 L59.3,502.2 M38.8,510.8 L39.9,490.0 L40.9,490.4 L42.0,497.2 L43.3,499.4 L45.1,500.1 L47.7,497.6 L50.1,495.2 L53.6,493.1 L58.5,493.2 M38.9,493.9 L40.3,470.2 L41.4,487.1 M38.9,492.1 L40.2,489.1 L41.2,485.7 L42.3,488.3 L43.8,490.5 L45.4,495.3 L47.7,504.3 L50.9,503.6 L53.7,504.4 M39.0,496.1 L40.7,490.0 L41.9,486.9 L43.4,491.9 L44.9,490.9 L46.7,487.1 L49.5,487.7 L53.0,484.9 L56.2,489.5 L61.0,493.1 L66.7,491.5 M38.8,492.3 L40.2,488.2 L41.3,486.8 L42.5,490.4 L44.3,488.3 L46.3,484.2 L48.6,479.6 L52.3,491.6 L56.9,492.6 L61.7,491.9 M38.8,495.9 L39.8,477.4 L40.8,475.4 L41.9,478.4 M38.8,507.9 L40.5,468.3 L41.5,478.5 L42.6,485.3 M38.9,507.1 L40.2,468.9 L41.4,476.8 L42.6,489.7 L44.0,490.2 L46.4,489.8 L49.3,490.6 L52.8,493.2 L57.0,493.8 M38.9,504.5 L39.4,480.7 L40.2,487.9 L41.3,495.8 L42.9,495.0 L44.5,493.6 L46.1,502.0 L48.3,507.6 L50.9,502.5 L54.7,505.7 L60.0,504.8 L63.9,503.5 M38.9,490.6 L40.1,490.0 L41.2,493.6 L42.4,497.6 L44.2,495.7 L45.9,491.0 L47.8,492.9 L50.9,495.1 L54.6,494.2 L57.6,493.0 L63.4,495.4 L70.2,495.5 L77.3,493.1 L89.1,490.0 L96.7,489.1 L107.2,490.6 L109.3,484.9 M39.0,506.3 L40.2,479.8 L41.3,486.5 L42.5,491.7 L43.9,487.7 L46.0,494.8 L47.9,501.2 L50.8,494.7 L53.4,503.1 L56.7,498.2 L60.4,496.6 L67.2,492.3 L72.5,491.3 L79.6,490.2 L89.5,489.8 L98.6,489.1 L112.6,489.3 M39.0,503.2 L40.6,468.2 L41.8,481.4 L43.0,489.2 L44.5,494.6 L46.3,491.7 L49.1,493.4 L52.5,502.3 L56.2,501.4 L59.7,502.1 L65.9,502.3 L74.6,503.3 L84.8,501.1 L95.0,500.2 L111.9,497.4 L123.6,499.0 M38.8,501.7 L40.4,483.1 L41.4,495.8 L42.9,496.7 L44.4,502.2 L46.3,505.7 L48.5,499.7 L51.7,494.9 L55.7,495.0 L61.0,496.1 L68.4,494.1 L73.3,495.0 L83.3,494.9 L97.3,495.3 L111.7,494.9 L118.2,495.5 M38.8,500.2 L40.9,481.0 L42.1,490.4 L43.6,490.7 L45.8,493.6 L47.9,489.4 L50.5,489.0 L52.8,494.3 L57.1,492.6 L61.4,492.5 L68.1,491.1 L77.6,492.5 L88.9,492.5 L99.7,492.1 L116.9,491.2 L117.5,493.2 M39.0,490.9 L40.4,482.2 L41.6,491.9 L42.9,495.8 L44.3,490.9 L46.6,499.2 L48.7,491.5 L51.4,494.0 L54.2,490.5 L57.0,493.5 L61.0,496.5 L65.8,498.9 L73.2,498.4 L82.5,500.9 L95.6,497.1 L104.4,495.8 L116.0,500.9 M39.0,497.9 L39.4,489.8 L40.2,490.5 L41.2,488.8 L42.4,489.1 L43.7,494.4 L45.9,492.8 L48.7,495.3 L51.8,492.7 L56.4,494.9 L61.9,493.2 L68.5,493.7 L75.9,493.2 L87.3,494.5 L99.2,493.7 L108.1,491.8 M38.9,501.4 L40.1,486.9 L41.2,491.1 L42.6,494.7 L44.2,503.1 L46.4,504.7 L48.7,507.6 L50.9,499.0 L54.6,500.2 L59.1,500.4 L65.0,499.0 L73.7,500.0 L82.2,503.6 L89.0,502.0 L102.7,502.4 L114.7,504.1 M38.9,500.2 L39.7,472.9 L40.6,489.3 L41.7,494.5 L43.3,499.6 L44.8,495.0 L46.9,488.4 L49.8,492.0 L52.7,494.9 L56.7,493.9 L61.8,494.4 L68.5,495.3 L77.8,496.0 L85.8,496.0 L92.8,494.5 L106.5,491.4 L112.3,490.0 M38.9,498.0 L40.3,474.6 L41.3,491.6 L42.7,500.3 L44.0,496.0 L45.6,487.4 L48.4,487.9 L51.5,496.1 L55.7,493.1 L60.3,493.6 L65.5,492.4 L71.3,495.2 L81.7,493.8 L88.5,494.4 L96.9,494.5 L113.6,497.7 L117.0,500.4 M38.9,498.8 L40.9,469.2 L42.1,473.3 L43.4,477.4 L44.9,483.6 L47.2,488.1 L49.2,489.1 L53.0,492.1 L55.9,491.1 L59.6,492.7 L65.8,493.9 L73.8,494.3 L83.6,493.5 L91.0,496.7 L104.4,497.1 L105.7,500.0 M38.9,507.3 L40.5,475.9 L41.5,482.4 L42.6,488.2 L43.6,490.5 L44.7,499.7 L46.2,506.0 L48.1,507.6 L49.7,505.3 M39.0,501.3 L40.0,485.1 L40.8,492.3 L41.7,480.7 L42.8,480.3 L44.2,488.1 L46.0,484.2 L48.0,490.7 L50.0,494.0 L52.8,498.9 L55.7,495.2 L59.7,494.0 L62.2,495.0 L65.7,496.4 M38.9,497.2 L40.7,491.5 L41.6,489.0 L42.7,487.8 L44.2,496.4 L45.5,490.0 L47.4,487.9 L49.0,489.6 L50.9,501.8 L53.5,501.0 L55.8,499.9 L58.5,497.4 L62.0,498.8 M39.0,498.5 L39.7,479.1 L40.5,491.4 L41.3,492.2 L42.3,490.5 L43.4,485.8 L44.7,494.2 L46.0,491.7 L47.4,488.7 L48.9,491.4 L51.2,492.5 L53.9,496.6 L56.5,496.8 L58.8,496.7 L63.6,495.3 M39.0,507.1 L40.0,479.0 L40.9,487.3 L41.8,485.4 L42.8,486.6 L43.8,482.3 L45.5,483.4 L47.1,476.1 L48.5,484.7 L50.8,488.8 L53.9,488.1 L56.3,491.3 L60.6,492.1 M38.8,505.0 L39.6,484.6 L40.3,486.9 L41.3,483.7 L42.4,485.4 L43.7,488.5 L45.2,497.6 L46.5,506.2 L47.9,500.4 L50.1,507.6 L52.2,507.6 L54.2,506.0 L56.9,500.7 L60.2,496.3 L63.2,494.2 M38.8,511.1 L39.7,480.1 L40.5,485.9 L41.4,490.4 L42.5,497.0 L43.5,491.3 L44.9,499.9 L46.4,506.2 L48.2,498.1 L50.4,498.2 L52.2,497.7 L55.1,500.9 L59.0,502.5 L62.1,504.0 M39.0,498.0 L39.6,486.5 L40.3,489.0 L41.3,482.5 L42.4,484.3 L43.4,492.8 L44.6,494.0 L45.9,504.9 L48.1,491.3 L50.6,490.3 L53.6,490.6 M38.9,499.7 L40.9,487.2 L41.8,484.3 L42.9,491.4 L44.0,505.7 L45.2,501.2 L46.9,500.5 L49.0,499.7 L51.5,500.8 L53.4,500.3 L56.4,503.2 L59.1,503.7 L63.0,504.8 M38.8,508.1 L40.5,491.1 L41.5,502.2 L42.5,495.9 L43.7,504.9 L44.8,498.2 L46.6,501.3 L48.2,497.0 L50.1,489.3 L51.9,497.1 L53.8,493.1 L56.7,497.0 L59.2,497.0 M39.0,498.3 L39.9,477.5 L40.6,475.2 L41.5,490.4 L42.6,497.6 L43.6,497.6 L45.2,496.0 L46.5,492.4 L48.1,492.6 L49.6,494.3 L52.2,494.0 L55.0,493.9 M38.8,503.0 L39.5,480.3 L40.2,490.0 L41.0,490.5 L41.9,493.2 L43.1,491.3 L44.5,487.8 L46.2,484.3 L47.7,481.9 L49.5,495.4 L51.7,491.1 L54.1,496.4 L57.9,494.6 L60.8,495.2 M39.0,504.4 L40.6,475.6 L41.5,493.0 L42.6,493.8 L43.7,498.9 L45.0,493.1 L46.7,487.9 L48.5,487.0 L50.0,480.4 L52.7,474.6 L56.2,482.5 L60.2,487.9 M38.9,510.8 L39.8,481.3 L40.6,488.7 L41.5,493.4 L42.6,490.1 L43.7,493.0 L45.1,489.0 L47.1,486.7 L49.0,490.1 L51.2,486.5 L53.2,487.6 M39.0,504.8 L39.7,487.3 L40.5,491.3 L41.4,497.5 L42.6,502.2 L43.7,507.6 L45.1,507.6 L46.6,506.0 L48.4,501.8 L50.3,503.1 L52.5,503.7 L55.8,503.5 M38.8,506.8 L39.8,475.5 L40.7,475.7 L41.6,477.6 L42.6,481.3 L43.9,483.0 L45.6,484.5 L47.5,485.2 L49.3,484.5 L51.7,494.6 M39.0,503.1 L40.5,479.7 L41.5,490.8 L42.7,485.1 L43.7,481.2 L45.2,490.3 L47.1,494.4 L49.1,501.4 L51.8,494.6 L54.5,498.1 L57.5,495.3 M39.0,506.6 L40.2,485.6 L41.2,495.5 L42.1,496.8 L43.1,493.8 L44.5,490.8 L45.7,490.0 L47.6,495.3 L50.0,493.6 L52.2,496.4 M39.0,511.1 L40.2,491.4 L41.1,487.8 L42.1,491.3 L43.3,496.9 L44.7,494.3 L46.1,488.6 L47.9,494.1 L49.5,498.7 L51.8,494.9 L54.5,486.8 L57.5,493.5 L60.8,498.9 L64.3,502.4 M38.9,498.3 L39.9,489.3 L40.6,484.0 L41.6,490.7 L42.8,486.8 L43.9,491.3 L45.2,496.6 L46.5,494.9 L48.1,497.7 L49.9,499.9 L52.9,497.5 L55.5,495.4 L59.2,494.5 L61.7,490.7 M38.9,497.9 L40.4,482.3 L41.3,492.7 L42.4,500.7 L43.6,503.2 L44.8,501.5 L46.5,500.0 L48.0,499.3 L50.1,497.4 L52.9,504.9 L54.9,495.7 L57.6,497.7 M38.9,505.7 L39.8,489.3 L40.5,498.8 L41.4,498.9 L42.5,507.6 L43.7,507.6 L45.1,506.1 L47.0,503.8 L49.3,507.6 L51.9,496.8 L54.2,507.6 L57.1,507.6 L61.5,506.1 M38.9,507.8 L40.7,487.0 L41.6,486.0 L42.6,485.2 L43.8,477.9 L45.2,480.4 L46.7,482.6 L48.4,485.6 L50.9,488.9 L53.1,491.9 L55.6,492.9 L58.2,492.2 L61.4,493.6 M38.9,500.1 L39.8,490.6 L40.6,490.4 L41.5,493.8 L42.6,501.9 L43.7,490.3 L45.3,494.5 L46.9,493.9 L48.4,494.4 L51.0,497.3 M38.8,505.4 L40.3,488.0 L41.2,496.5 L42.3,499.4 L43.4,503.6 L44.6,507.6 L46.1,503.0 L48.1,501.0 L49.9,502.5 L52.3,504.2 L54.8,507.4 L57.0,505.4 L60.0,504.0 L64.3,502.4" stroke="#2c4c86" stroke-width="0.78" fill="none" stroke-opacity="1.0" stroke-linejoin="round"/>
<path d="M63.5,494.3 L65.7,492.2 L67.3,480.6 L68.1,468.4 L69.0,484.8 L70.0,494.3 L72.1,495.4" stroke="#2c4c86" stroke-width="1.04" fill="none" stroke-opacity="1.0" stroke-linejoin="round"/>
<path d="M40.9,474.2 L46.5,477.4 L56.0,480.0 L64.3,482.5 L69.5,488.0 L79.7,488.0 L89.0,488.7 L96.2,492.2 L103.3,494.3" stroke="#2c4c86" stroke-width="0.91" fill="none" stroke-opacity="1.0" stroke-linejoin="round"/>
<path d="M39.0,506.0 L43.1,468.9 L43.7,488.0 L44.4,500.7 L45.2,506.0 M42.0,500.7 L43.5,475.3 L44.2,494.3 L45.0,503.9" stroke="#a3174a" stroke-width="0.78" fill="none" stroke-opacity="0.9" stroke-linejoin="round"/>
</g>
<g clip-path="url(#cp01)">
<line x1="38.80" y1="573.78" x2="128.02" y2="573.78" stroke="#cc3a7e" stroke-width="0.9" stroke-dasharray="1.3,1.6"/>
<path d="M38.8,574.8 L39.7,536.7 L40.9,534.5 L43.6,539.8 L46.3,546.2" stroke="#4a6a98" stroke-width="1.17" fill="none" stroke-opacity="1.0" stroke-linejoin="round"/>
<path d="M39.9,550.4 L42.0,561.0 L45.2,561.0 L49.5,562.1 L54.9,561.0 L60.3,562.1 L66.8,560.0 L75.3,562.1 L81.8,563.2 L90.4,560.0 L99.0,561.0 L105.5,561.0 L118.3,561.0" stroke="#4a6a98" stroke-width="1.17" fill="none" stroke-opacity="1.0" stroke-linejoin="round"/>
<path d="M38.8,575.9 L39.2,556.8 L39.7,539.8 L40.2,547.3 L40.7,556.8 L41.8,563.2 L43.6,567.4 L46.3,570.6 L49.5,571.6 L53.8,572.7 L60.3,573.2 L66.8,573.8 L74.3,573.8" stroke="#a3174a" stroke-width="1.30" fill="none" stroke-opacity="1.0" stroke-linejoin="round"/>
<path d="M39.4,551.5 L40.1,561.0 L40.9,565.3 L43.1,568.5" stroke="#a3174a" stroke-width="1.04" fill="none" stroke-opacity="1.0" stroke-linejoin="round"/>
</g>
<g clip-path="url(#cp02)">
<line x1="63.52" y1="640.48" x2="128.02" y2="640.48" stroke="#cc3a7e" stroke-width="0.9" stroke-dasharray="1.3,1.6"/>
<path d="M38.7,595.4 L41.4,604.5 L46.8,617.1 L52.3,628.0 L57.7,633.4 M46.8,620.7 L50.5,615.3 L52.3,603.6 L55.9,613.5 L61.3,618.9 L72.2,621.6 L81.2,624.3 L92.0,623.4 L104.7,625.2 L117.3,627.1 M43.2,615.3 L52.3,620.7 L63.1,618.9 L74.0,622.5 L84.8,626.2 L95.7,628.9 L104.7,632.5 L113.7,633.4 M48.7,622.5 L57.7,623.4 L70.3,625.2 L81.2,628.9 L90.2,634.3 L101.1,633.4 L111.9,628.9 L121.0,632.5 M45.0,626.2 L54.1,629.8 L63.1,635.2 L72.2,637.4 L78.5,637.9 M41.4,611.7 L48.7,626.2 L54.1,635.2 L59.5,639.7 L64.9,643.3 M52.3,635.2 L59.5,633.4 L68.5,624.3 L83.0,622.5 L97.5,626.2 L108.3,627.1 L119.2,627.1" stroke="#4a6a98" stroke-width="0.98" fill="none" stroke-opacity="1.0" stroke-linejoin="round"/>
<path d="M40.0,639.5 L40.6,642.1 L41.1,640.4 L41.7,643.2 L42.3,645.7 L42.8,646.0 M40.8,623.5 L42.6,635.3 L44.3,635.7 L46.0,623.2 L47.7,646.0 M40.0,639.3 L40.4,645.1 L40.8,646.0 L41.3,646.0 L41.7,646.0 M41.0,626.5 L42.5,629.7 L43.9,636.8 L45.4,646.0 M41.1,600.0 L44.8,607.1 L48.5,623.7 L52.2,630.9 L55.9,643.7 L59.6,646.0 M40.5,626.7 L41.9,629.0 L43.3,631.8 L44.6,643.0 L46.0,646.0 M41.1,623.0 L43.1,626.8 L45.2,631.2 L47.2,636.0 L49.3,641.5 L51.3,646.0" stroke="#e2a53c" stroke-width="0.98" fill="none" stroke-opacity="1.0" stroke-linejoin="round"/>
<path d="M40.4,606.1 L43.0,616.0 L45.7,625.6 L48.4,627.9 L51.0,637.5 L53.7,646.0 M40.0,606.5 L42.7,602.2 L45.3,630.2 L47.9,634.7 L50.5,646.0 M40.7,628.5 L41.7,628.6 L42.7,632.1 L43.8,637.8 L44.8,640.1 L45.8,646.0 M40.1,637.0 L40.8,639.4 L41.5,640.3 L42.2,641.6 L42.9,646.0 M39.3,621.0 L41.2,619.0 L43.0,631.3 L44.9,639.1 L46.7,643.4 L48.6,646.0" stroke="#d98b2b" stroke-width="0.98" fill="none" stroke-opacity="1.0" stroke-linejoin="round"/>
<path d="M38.7,597.2 L46.8,608.1 L54.1,620.7 L66.7,629.8 M39.6,600.8 L45.0,611.7 L54.1,618.9 L61.3,626.2 L72.2,628.9 M40.5,608.1 L48.7,617.1 L54.1,622.5 L59.5,631.6 L66.7,637.0 M38.7,617.1 L45.0,622.5 L54.1,626.2 L64.9,631.6 M39.6,626.2 L46.8,631.6 L52.3,638.8 L57.7,646.0 M41.4,604.5 L50.5,620.7 L55.9,633.4 L57.7,642.4 M43.2,599.0 L50.5,609.9 L59.5,620.7 L70.3,626.2 M39.6,611.7 L46.8,624.3 L50.5,635.2 L52.3,644.2 M45.0,613.5 L54.1,615.3 L63.1,626.2 L68.5,628.9 M39.3,606.3 L44.1,615.3 L49.6,628.0 L55.9,637.9 L61.3,640.6" stroke="#e2a53c" stroke-width="0.98" fill="none" stroke-opacity="1.0" stroke-linejoin="round"/>
<path d="M38.8,601.9 L39.5,602.4 L40.8,599.6 L42.0,602.7 L42.6,606.2 L43.8,615.0 L45.0,628.5 L46.1,643.3 M38.7,630.4 L39.6,647.8 L40.4,643.8 L41.9,649.5 L42.6,642.0 L43.9,648.0 M38.4,644.5 L39.1,647.5 L39.9,648.3 L40.9,648.7 L42.1,647.3 L42.7,646.1 L43.7,646.8 L45.0,647.2 M38.8,636.2 L40.0,649.9 L41.3,648.5 L42.2,647.4 L43.0,649.1 L44.2,649.0 M39.3,601.1 L39.9,602.4 L40.9,610.8 L42.3,621.2 L43.4,636.4 L44.1,628.2 L45.3,624.6 L46.3,640.7 L47.5,642.6 M38.5,645.7 L39.3,648.8 L40.0,645.1 L41.4,647.2 L42.9,646.2 L43.7,649.9 L44.7,647.5 L45.8,632.3 L47.0,639.3 L47.7,647.4 M39.3,618.3 L40.6,612.6 L41.6,615.6 L42.2,603.6 L43.2,616.2 L44.0,621.6 L45.2,625.2 L46.6,633.8 L48.1,648.9 M38.6,635.4 L39.2,642.9 L40.3,629.4 L41.3,618.6 L42.3,617.1 L43.4,614.6 L44.3,615.8 M39.2,601.3 L40.5,597.8 L41.6,613.8 L42.6,604.9 L43.3,618.8 L44.7,622.8 L46.0,630.3 L46.8,634.8 L47.5,649.0 M39.2,626.4 L40.1,629.1 L40.9,643.0 L41.7,649.3 L43.0,649.9 L43.8,646.9 L44.6,635.4 L45.8,635.3 L46.8,635.2 L47.9,648.8 M39.7,627.0 L40.9,612.1 L42.2,622.7 L43.3,634.5 L44.6,649.7 L46.1,646.7 L47.1,638.9 M39.1,648.3 L40.1,648.7 L40.8,640.0 L41.8,649.1 L42.4,644.7 L43.9,649.7" stroke="#a3174a" stroke-width="0.91" fill="none" stroke-opacity="1.0" stroke-linejoin="round"/>
<path d="M81.2,640.3 L81.2,624.4 L80.2,624.4 L82.2,624.4" stroke="#a3174a" stroke-width="1.17" fill="none" stroke-opacity="1.0" stroke-linejoin="round"/>
</g>
<g clip-path="url(#cp10)">
<line x1="196.80" y1="514.91" x2="255.92" y2="514.91" stroke="#cc3a7e" stroke-width="0.9" stroke-dasharray="1.3,1.6"/>
<path d="M167.5,469.5 L168.6,493.4 L169.1,508.5 L169.6,508.4 L170.3,501.0 M167.8,504.6 L168.3,505.3 L169.1,513.0 L169.9,507.5 L170.9,514.0 L171.6,510.0 L172.5,513.8 L172.9,512.8 M167.4,498.9 L168.5,496.3 L169.3,500.0 L169.8,490.9 M167.3,471.0 L168.4,463.7 L169.2,470.1 L169.8,486.3 L170.4,487.1 L171.2,514.0 L172.0,513.1 L172.8,509.7 L173.2,514.1 L174.1,507.6 M167.8,512.9 L168.6,504.3 L169.2,514.2 L169.9,512.4 L170.7,511.6 L171.6,513.9 L172.2,512.7 L172.8,500.5 M167.5,511.4 L168.1,506.0 L168.7,507.6 L169.8,498.8 L170.8,491.8 M167.1,483.0 L168.3,476.7 L169.2,486.9 L169.7,481.6 M167.9,468.2 L168.6,469.8 L169.5,483.8 L170.5,494.1 M167.2,504.2 L167.7,513.2 L168.4,512.3 L169.5,513.8 L170.4,509.1 M167.3,499.4 L168.4,502.6 L169.6,493.2 L170.6,499.3 L171.2,500.2 L172.3,496.8 L173.0,489.8 M167.8,511.0 L168.3,510.7 L169.1,505.0 L170.1,509.4 L170.6,509.6 L171.8,504.0 L172.4,501.1 M167.5,513.1 L168.4,510.2 L169.1,503.1 L169.6,513.2 L170.6,507.4 L171.5,508.5 L172.0,511.3 L172.7,513.6 M167.5,468.4 L167.9,464.8 L168.5,469.2 L169.5,471.2 L170.4,472.1 L171.0,472.2 M167.6,464.1 L168.1,466.3 L168.5,483.7 L169.3,472.2 L169.8,463.5 L170.9,465.6 M167.6,503.1 L168.3,500.4 L169.5,502.9 L170.1,502.4 L171.1,499.8 L172.0,509.4 L173.1,511.3 L173.7,513.8 L174.5,513.2 M167.4,481.0 L168.5,474.8 L169.0,487.5 L169.6,487.1 L170.5,492.1 L170.9,483.7 L171.8,478.1 L172.8,469.8 M167.6,481.8 L168.2,482.6 L168.7,495.1 L169.7,501.2 L170.6,501.5 L171.3,511.9 L172.2,510.2 M167.1,491.2 L168.1,491.5 L169.1,504.7 L170.3,513.6 M167.8,490.4 L168.7,478.6 L169.5,483.5 L170.6,479.7 L171.8,476.0 M167.8,464.7 L168.2,469.6 L169.2,482.2 L169.9,476.2 L170.5,463.3 L171.2,478.1 L172.1,480.5 L172.6,479.8 M167.7,475.7 L168.4,470.2 L169.5,474.5 L170.3,491.3 L171.1,490.4 M167.9,502.8 L168.4,502.6 L168.8,507.2 L169.9,508.3 L170.8,513.8 L172.0,514.3 L173.0,513.5 L174.1,514.3 M167.8,485.8 L168.3,484.1 L169.4,478.6 L170.0,464.7 L171.1,470.8 L171.9,477.5 M167.4,501.8 L168.1,491.8 L169.0,499.4 L169.7,490.6 L170.6,508.0 L171.1,507.9 L171.7,507.8 M167.6,492.8 L168.6,512.0 L169.0,513.4 L169.5,507.8 L170.3,502.4 L170.7,505.2 L171.6,513.8 L172.5,511.2 L173.6,511.8 M168.0,467.3 L169.0,474.6 L169.5,474.5 L170.5,482.6 L171.6,484.2 L172.2,500.4 L173.4,506.1 L174.0,505.9 L174.7,509.2 M167.3,480.3 L168.5,481.1 L169.2,474.9 L170.0,472.1 L171.1,476.6 L172.2,483.9 M167.6,475.6 L168.8,465.7 L169.8,463.3 L170.8,476.5 L171.8,488.2 M167.0,500.1 L167.9,507.6 L168.8,496.1 L169.6,501.8 L170.5,490.0 L171.2,493.1 M167.3,491.3 L168.4,497.0 L169.1,480.4 L169.5,488.4 L170.5,488.4 L171.5,503.8" stroke="#2c4c86" stroke-width="0.78" fill="none" stroke-opacity="1.0" stroke-linejoin="round"/>
<path d="M168.0,510.7 L168.8,513.7 L170.4,513.2 L171.7,509.7 L172.9,513.7 L174.4,514.4 L175.4,513.8 L176.4,513.1 L177.7,512.8 L178.5,512.2 L180.2,513.0 L181.9,506.5 L182.8,499.0 L183.9,511.1 M167.6,499.3 L168.6,496.4 L169.5,490.6 L170.8,491.2 L171.9,498.5 L172.6,492.5 L173.3,485.5 L174.5,490.7 L175.6,492.3 L177.0,487.7 L178.5,483.2 L179.3,484.5 M167.4,493.6 L168.6,495.0 L170.3,496.3 L171.4,503.3 L172.5,501.8 L173.2,503.4 L175.0,501.8 L176.7,514.4 L178.1,514.5 M168.1,513.0 L169.4,514.2 L170.3,514.0 L170.9,510.3 L172.2,511.4 L173.5,511.0 L174.1,514.0 L174.7,510.3 L175.7,506.2 L177.5,512.2 L178.8,514.5 L180.0,512.8 M168.4,499.3 L170.2,501.9 L171.2,505.7 L171.9,507.2 L172.7,507.8 L173.5,493.8 L174.3,491.2 L175.3,486.8 L175.9,493.3 L177.5,493.7 L178.6,494.7 L180.2,497.8 M168.2,473.6 L169.9,482.6 L171.1,483.9 L171.8,471.9 L172.8,482.8 L173.7,487.3 L174.4,493.3 L175.6,494.3 L176.8,501.7 L178.2,506.7 L179.1,496.7 M168.0,479.0 L169.0,489.5 L170.1,485.2 L170.8,485.2 L171.5,477.4 L172.9,465.6 L174.3,477.3 L175.2,491.3 L176.3,490.1 L177.8,481.6 M167.0,466.8 L168.6,473.1 L169.7,475.7 L170.4,481.9 L171.7,501.6 L172.7,502.5 L173.5,499.3 L174.2,503.1 L174.9,501.8 L176.6,506.5 L177.1,500.4 L178.5,501.6 L179.3,498.9 L180.7,500.3 L181.9,489.2 L182.6,492.6 L183.8,490.3 L184.9,492.7 L185.5,497.1 L186.3,504.1 M167.7,485.1 L169.4,477.1 L170.0,482.7 L171.5,490.6 L173.2,495.3 L174.6,486.3 L175.5,487.4 L176.3,497.7 L178.0,496.6 L179.8,493.8 L180.7,498.5 L182.1,504.8 L183.5,507.6 L184.2,512.8 L185.1,512.7 M167.5,497.0 L168.9,499.7 L170.1,508.5 L170.6,513.6 L172.1,510.9 L172.9,502.5 L173.7,501.0 L175.2,511.2 L176.0,501.0 L177.5,504.7 M168.4,493.0 L169.6,494.8 L170.4,496.5 L171.1,496.7 L172.0,502.3 L173.1,500.6 L173.8,507.9 L175.4,513.5 L176.5,504.5 L177.9,509.2 M167.6,465.1 L168.8,469.3 L169.9,468.5 L171.5,463.4 L172.1,463.3 L173.0,468.2 L174.4,470.3 L175.7,472.2 M168.3,478.9 L168.9,480.6 L169.7,486.2 L170.9,485.3 L172.2,491.5 L172.7,492.3 L173.6,510.9 L174.8,510.7 L176.3,511.0 L177.5,512.7 M167.2,466.1 L168.6,470.7 L169.3,472.1 L170.1,470.6 L171.7,479.4 L173.0,480.8 L173.6,479.1 L175.0,479.1 L175.8,481.1 L176.9,494.7 L178.5,497.4 L179.4,496.4 L180.1,500.5 L180.8,513.8 L181.7,511.3 L182.9,513.3 L183.7,508.2 L185.2,511.6 M167.0,503.8 L168.2,511.5 L169.7,511.8 L170.5,512.1 L171.9,508.8 L172.5,511.6 L173.0,513.3 L174.2,513.5 L175.5,513.8 L176.1,513.9 M167.5,484.4 L169.3,484.2 L170.6,488.4 L172.1,482.2 L173.2,483.1 L174.1,495.3 L174.7,484.8 L176.1,488.9 L176.8,482.8 L178.5,490.9 L179.7,492.3 L181.0,484.4 L182.3,497.0" stroke="#2c4c86" stroke-width="0.78" fill="none" stroke-opacity="1.0" stroke-linejoin="round"/>
<path d="M169.4,504.1 L171.1,509.6 L172.8,510.8 L174.5,514.6 L176.2,514.6 M167.7,492.4 L172.9,494.4 L178.1,511.6 L183.3,514.6 M169.4,501.1 L170.9,501.9 L172.4,506.6 L174.0,503.5 L175.5,503.9 L177.0,509.5 L178.6,514.6 M169.5,505.9 L170.0,511.9 L170.4,501.0 L170.9,504.3 L171.4,514.6 L171.8,510.0 L172.3,514.6 M168.2,482.9 L170.0,488.2 L171.8,495.6 L173.5,499.6 L175.3,496.4 L177.1,505.1 L178.8,511.7 L180.6,514.6 M167.8,501.9 L168.7,504.4 L169.7,503.6 L170.6,506.9 L171.5,508.1 L172.5,512.1 L173.4,510.5 L174.3,514.6 M167.8,512.9 L168.0,508.9 L168.2,514.6 L168.4,514.6 L168.7,514.6 M167.9,483.8 L170.9,481.4 L173.9,495.4 L177.0,504.0 L180.0,504.0 L183.0,510.0 L186.0,512.7 L189.0,514.6 M169.8,490.6 L172.8,495.4 L175.8,499.7 L178.8,499.0 L181.8,514.6 L184.8,514.6 M169.3,500.4 L170.3,502.6 L171.4,505.3 L172.4,507.5 L173.5,508.7 L174.6,514.6 M169.9,486.0 L172.6,487.8 L175.3,502.3 L177.9,497.6 L180.6,510.5 L183.3,512.0 L186.0,514.6 M168.5,501.5 L169.9,501.8 L171.4,508.7 L172.9,514.6 M169.3,510.1 L169.7,514.3 L170.2,512.4 L170.6,514.6 L171.1,514.6 L171.5,514.6 L172.0,514.6 M168.8,496.3 L169.8,498.0 L170.9,504.9 L171.9,510.2 L173.0,514.1 L174.0,510.9 L175.1,514.6 M167.7,505.0 L168.2,512.1 L168.7,507.0 L169.1,511.2 L169.6,504.8 L170.1,504.4 L170.6,514.6 L171.0,514.6 M169.1,501.5 L170.5,507.1 L172.0,504.0 L173.4,514.6 L174.8,514.6 M169.7,477.5 L177.4,491.3 L185.1,505.7 L192.8,514.6 M167.5,483.5 L169.7,495.3 L172.0,502.8 L174.2,500.9 L176.5,504.5 L178.7,514.6 M167.8,510.1 L168.2,514.6 L168.5,509.5 L168.8,514.6 L169.2,514.6 L169.5,514.6 L169.9,510.9 L170.2,514.6 M169.9,481.1 L171.8,488.4 L173.6,483.4 L175.5,497.8 L177.4,495.7 L179.3,499.8 L181.1,508.9 L183.0,514.6 M169.3,491.4 L171.3,497.3 L173.4,499.2 L175.5,499.8 L177.6,501.0 L179.7,514.6 L181.7,514.6 M168.6,482.3 L172.3,488.2 L176.0,495.4 L179.7,495.6 L183.5,506.9 L187.2,514.6 M167.9,497.5 L170.0,507.9 L172.0,500.7 L174.1,514.6 L176.1,514.6 M169.5,507.7 L170.3,512.2 L171.1,511.7 L171.9,514.0 L172.8,512.1 L173.6,514.6 M167.4,488.1 L171.0,486.9 L174.6,494.9 L178.2,506.8 L181.8,505.2 L185.4,514.6 M169.1,474.1 L173.2,487.7 L177.3,483.5 L181.4,486.8 L185.5,503.5 L189.6,510.6 L193.7,514.6 M167.2,488.6 L169.2,489.7 L171.3,491.5 L173.3,495.4 L175.3,506.4 L177.4,506.0 L179.4,514.6 L181.4,514.6 M169.4,507.9 L170.0,501.0 L170.6,511.2 L171.3,514.6 L171.9,514.6 M169.5,499.6 L171.9,499.4 L174.4,502.2 L176.8,504.3 L179.3,514.6 M168.2,510.3 L168.5,507.1 L168.9,508.6 L169.3,505.4 L169.7,507.3 L170.0,512.0 L170.4,514.6 L170.8,514.6 M168.7,510.0 L169.3,511.0 L169.8,511.6 L170.4,514.6 M169.5,484.2 L171.9,487.3 L174.4,500.9 L176.8,512.3 L179.2,514.6 M168.8,466.6 L173.1,473.8 L177.4,484.8 L181.7,492.4 L185.9,496.1 L190.2,503.9 L194.5,514.6 M168.0,495.9 L170.0,498.5 L171.9,514.6 L173.9,504.4 L175.8,514.6 M167.7,475.9 L172.8,480.7 L177.9,490.1 L183.1,499.8 L188.2,502.5 L193.4,514.6 M168.8,488.0 L170.8,487.1 L172.8,490.6 L174.8,502.6 L176.8,504.2 L178.8,506.1 L180.8,507.4 L182.8,514.6 M169.0,480.3 L171.8,488.8 L174.6,493.0 L177.4,498.3 L180.2,497.3 L183.0,499.1 L185.8,506.2 L188.6,514.6 M167.6,488.1 L170.6,495.7 L173.6,508.9 L176.6,511.9 L179.6,514.6 M167.0,505.2 L168.6,508.0 L170.2,507.3 L171.7,512.5 L173.3,514.6 M167.9,505.6 L168.3,499.3 L168.8,507.9 L169.2,508.1 L169.7,510.9 L170.1,512.7 L170.5,514.6 L171.0,514.6 M168.9,481.0 L172.8,484.5 L176.7,494.6 L180.6,504.8 L184.5,514.6 M168.1,471.8 L173.4,479.5 L178.8,489.4 L184.2,495.9 L189.6,499.3 L195.0,514.6 M168.0,508.7 L168.5,508.0 L169.0,510.8 L169.4,509.8 L169.9,514.6 L170.4,514.6 L170.9,514.6 M169.5,494.1 L171.0,490.9 L172.4,501.7 L173.8,507.3 L175.2,514.6 L176.6,512.3 L178.0,514.6 M169.1,512.3 L169.4,513.7 L169.7,506.7 L169.9,514.6 L170.2,514.6 L170.5,512.2 L170.7,514.6 M167.3,503.1 L169.5,507.8 L171.6,514.6 L173.7,514.6 M169.4,491.0 L170.5,494.8 L171.6,496.3 L172.8,500.8 L173.9,502.0 L175.0,512.9 L176.2,514.6 L177.3,514.6 M168.9,477.8 L172.0,482.1 L175.1,491.1 L178.2,501.1 L181.3,505.5 L184.4,514.6 M167.6,490.7 L169.9,493.5 L172.2,499.0 L174.5,497.5 L176.8,505.1 L179.0,502.8 L181.3,514.6 M167.5,499.7 L170.1,502.5 L172.6,502.8 L175.2,514.6 L177.7,514.6 M167.4,492.7 L170.1,494.4 L172.8,506.2 L175.5,501.1 L178.2,514.6 M167.0,495.8 L170.1,496.1 L173.1,500.3 L176.2,511.6 L179.2,514.6 M169.9,506.3 L170.8,509.5 L171.7,504.1 L172.6,514.6 M169.9,505.2 L170.3,512.0 L170.8,502.1 L171.2,502.3 L171.7,510.4 L172.1,514.2 L172.6,514.6 L173.0,514.6 M167.3,513.5 L167.5,514.5 L167.7,514.6 L167.8,514.6 L168.0,514.6 M168.8,484.1 L171.5,489.4 L174.2,494.1 L176.8,502.4 L179.5,500.3 L182.2,511.6 L184.8,514.6 M168.9,497.1 L172.6,498.7 L176.3,507.2 L180.0,514.6 M168.8,490.7 L170.8,488.5 L172.8,497.5 L174.8,500.1 L176.9,507.9 L178.9,501.4 L180.9,509.2 L182.9,514.6 M169.0,477.9 L175.0,490.6 L181.0,501.1 L187.0,514.6 M168.6,500.9 L169.8,503.2 L171.0,512.3 L172.3,504.9 L173.5,514.6" stroke="#2c4c86" stroke-width="0.78" fill="none" stroke-opacity="1.0" stroke-linejoin="round"/>
<path d="M171.1,465.1 L181.7,471.3 L187.0,475.7 L193.2,481.9 M195.9,498.7 L210.0,502.2 L217.1,505.8 L225.9,509.3 M215.3,501.4 L225.9,509.3 L234.8,504.0 L247.2,500.5 M217.1,503.1 L231.3,511.1 L241.9,503.1 L250.7,501.4 M199.4,496.1 L206.5,498.7 L211.8,508.4 L222.4,511.1 L234.8,512.9 M192.3,500.5 L199.4,504.0 L208.2,506.7 L217.1,511.1 M225.9,505.8 L234.8,508.4 L243.6,511.1 L250.7,512.9 M194.1,497.8 L201.2,500.5 L206.5,502.2" stroke="#2c4c86" stroke-width="0.85" fill="none" stroke-opacity="1.0" stroke-linejoin="round"/>
<path d="M196.4,462.4 L196.4,493.4" stroke="#6a7ca0" stroke-width="0.78" fill="none" stroke-opacity="1.0" stroke-linejoin="round"/>
</g>
<g clip-path="url(#cp11)">
<line x1="168.85" y1="581.61" x2="255.92" y2="581.61" stroke="#cc3a7e" stroke-width="0.9" stroke-dasharray="1.3,1.6"/>
<path d="M167.2,532.3 L168.2,561.2 L168.8,581.2 M167.7,545.0 L170.0,542.7 L174.2,537.4 L176.9,539.2 M166.8,581.2 L167.7,549.6 L170.5,565.8 L173.5,572.7 L174.6,581.2 M168.2,538.1 L169.5,568.1 L172.3,581.2" stroke="#4a6a98" stroke-width="1.17" fill="none" stroke-opacity="1.0" stroke-linejoin="round"/>
</g>
<g clip-path="url(#cp12)">
<line x1="183.90" y1="648.31" x2="255.92" y2="648.31" stroke="#cc3a7e" stroke-width="0.9" stroke-dasharray="1.3,1.6"/>
<path d="M181.7,604.2 L192.3,606.8 L208.2,613.0 L220.6,620.1 L229.5,627.2 L238.3,627.2 L249.0,646.6 M179.9,602.4 L179.9,625.4 M181.7,614.8 L185.2,613.0 L187.0,621.9 L190.5,625.4 L199.4,632.5 L211.8,635.1 L225.9,636.0 L234.8,641.3 L243.6,641.3 M210.0,635.1 L220.6,646.6 L231.3,631.6 L240.1,631.6 L249.0,646.6 M169.3,605.9 L178.2,614.8 L183.5,620.1 L187.0,634.2 L192.3,646.6" stroke="#4a6a98" stroke-width="1.04" fill="none" stroke-opacity="1.0" stroke-linejoin="round"/>
<path d="M167.1,604.9 L172.0,622.1 L176.9,637.5 L181.8,648.0 M169.2,629.5 L171.4,643.8 L173.6,648.0 M168.7,598.6 L174.4,616.5 L180.1,635.6 L185.8,648.0 M167.3,628.7 L171.9,636.2 L176.5,648.0 M169.1,634.6 L172.0,640.4 L174.9,648.0 M169.1,631.9 L170.1,634.3 L171.1,643.5 L172.1,642.6 L173.1,648.0 M168.6,600.0 L173.7,619.4 L178.9,632.6 L184.1,648.0 M167.2,597.0 L174.0,615.1 L180.8,620.0 L187.6,641.1 L194.5,648.0" stroke="#e2a53c" stroke-width="0.98" fill="none" stroke-opacity="1.0" stroke-linejoin="round"/>
<path d="M168.7,604.5 L171.9,609.4 L175.0,630.4 L178.2,648.0 M168.2,608.3 L175.0,627.4 L181.8,648.0 M168.7,632.4 L171.4,638.6 L174.1,648.0 M168.9,606.3 L172.9,619.8 L177.0,635.7 L181.1,648.0" stroke="#d98b2b" stroke-width="0.98" fill="none" stroke-opacity="1.0" stroke-linejoin="round"/>
<path d="M195.9,637.8 L204.7,633.4 L211.8,628.9 M169.3,597.1 L178.2,616.5 L188.8,636.0 L194.1,646.6 M167.5,600.6 L174.6,611.2 L183.5,637.8 L185.2,646.6" stroke="#e2a53c" stroke-width="1.04" fill="none" stroke-opacity="1.0" stroke-linejoin="round"/>
<path d="M167.0,611.8 L167.8,615.8 L168.3,637.9 L169.0,628.4 L169.9,622.4 M166.8,637.1 L167.6,628.5 L168.2,648.4 L169.0,643.0 L169.7,645.9 L170.2,642.4 L170.8,631.9 L171.3,646.5 L172.2,645.7 L172.9,648.0 M167.4,609.8 L167.8,608.6 L168.6,613.2 L169.3,618.7 L170.0,623.5 M167.4,632.6 L168.3,644.2 L169.2,641.0 L169.7,630.8 L170.2,642.2 L171.2,645.5 L171.8,644.9 M166.9,611.6 L167.7,618.9 L168.3,625.2 L168.9,614.5 L169.3,624.1 L169.7,629.1 L170.3,629.9 L170.8,642.9 L171.7,648.2 M166.6,613.8 L167.3,623.6 L167.8,628.7 L168.8,639.4 L169.5,637.7 L169.9,628.6 L170.5,642.5 M166.7,632.8 L167.6,643.4 L168.6,645.1 L169.0,634.6 L169.8,621.7 L170.7,632.8 L171.2,646.3 L171.6,646.2 L172.2,646.9 L172.7,648.0 M166.6,627.8 L167.2,631.8 L167.9,647.1 L168.5,638.9 L168.9,643.7 L169.6,647.1 L170.1,647.3 L170.8,647.4 L171.4,647.4 M167.7,645.4 L168.1,644.8 L168.7,645.6 L169.4,647.5 L170.0,645.4 L170.6,646.8 L171.6,648.1 M167.5,632.1 L168.0,628.9 L168.9,645.1 L169.5,647.0 L170.0,635.0 M167.5,644.2 L168.3,645.3 L168.6,637.1 L169.4,625.2 L169.9,622.1 L170.8,631.5 L171.3,647.3 L172.1,646.7 M167.3,634.7 L167.9,634.9 L168.8,626.1 L169.4,647.0 L169.9,646.1 M166.9,611.3 L167.2,618.1 L167.9,628.2 L168.3,616.5 L169.1,632.4 L169.9,639.5 M166.7,623.9 L167.6,647.0 L168.1,643.4 L168.5,642.7 L169.0,631.3 L169.7,641.5 L170.5,644.9 L171.0,643.3 M167.5,631.0 L168.2,627.1 L168.9,634.2 L169.4,618.4 L170.4,631.5 L170.9,634.3 L171.3,647.6 M167.0,605.7 L167.9,607.5 L168.4,622.5 L168.8,623.6 L169.6,629.5 L170.0,627.8 L171.0,637.1 L172.0,646.8 L172.4,646.3" stroke="#a3174a" stroke-width="0.91" fill="none" stroke-opacity="1.0" stroke-linejoin="round"/>
</g>
<g clip-path="url(#cp20)">
<line x1="327.15" y1="514.91" x2="384.12" y2="514.91" stroke="#cc3a7e" stroke-width="0.9" stroke-dasharray="1.3,1.6"/>
<path d="M295.3,466.0 L295.9,463.4 L296.6,467.1 L297.3,464.8 L298.1,465.8 M295.5,489.4 L296.2,484.7 L296.8,481.9 L297.7,495.4 L298.3,492.9 M296.0,475.6 L296.8,489.4 L297.3,495.2 L297.9,504.7 L298.5,501.0 L299.4,512.7 M295.6,479.1 L296.6,475.0 L297.0,487.0 L297.7,486.0 L298.1,486.8 L299.0,479.2 L299.6,471.6 M296.0,495.6 L296.5,496.9 L297.2,507.2 L298.0,500.0 L298.6,493.2 L299.4,496.5 M295.5,501.8 L296.4,498.1 L297.2,486.4 L297.9,496.8 M295.4,490.9 L296.0,500.4 L296.7,502.5 L297.6,494.9 M295.7,470.7 L296.4,464.0 L296.8,467.4 M295.9,493.3 L296.7,510.1 L297.6,514.0 L298.0,514.2 M295.3,509.2 L295.9,514.0 L296.3,513.2 L296.8,513.9 L297.5,512.0 L298.1,513.7 L298.9,512.6 M295.9,476.0 L296.4,471.2 L296.8,477.0 L297.7,477.2 M295.5,488.4 L296.2,505.6 L297.1,505.6 M295.9,484.3 L296.3,484.0 L297.0,488.2 L297.4,498.4 M295.6,486.7 L296.3,500.7 L297.2,492.3 L297.6,494.9 L298.6,499.6 L299.3,513.5 M295.8,488.4 L296.4,495.4 L296.8,498.7 L297.5,503.2 L298.2,513.3 M295.4,471.8 L296.4,476.6 L296.8,474.8 L297.5,468.4 L298.3,481.3 L299.1,485.3 L299.8,477.8 M295.4,502.6 L296.0,500.6 L296.5,507.5 L297.3,508.6 L297.9,511.8 M295.8,499.7 L296.6,493.0 L297.1,495.2 L297.9,489.3 L298.3,483.5 L299.2,474.7 M295.9,511.2 L296.7,511.3 L297.4,514.2 L298.0,501.0 M295.2,502.3 L296.2,514.1 L297.2,510.2 M295.6,465.5 L296.1,464.9 L296.9,467.7 L297.5,463.7 L298.3,464.1 L299.1,464.9 M295.9,497.2 L296.7,495.9 L297.3,502.0 L298.0,491.9 L298.5,480.5 M295.8,481.1 L296.4,492.8 L297.2,511.8 L298.1,511.4 L299.0,507.5 L299.5,512.7 M295.8,501.8 L296.4,506.3 L297.3,492.7 L298.0,501.0 M295.8,463.6 L296.7,465.0 L297.5,478.3 L298.1,477.4 M295.8,506.5 L296.6,507.6 L297.1,508.7 L297.7,511.3 L298.1,505.6 L298.6,513.1 M295.5,508.2 L296.0,509.1 L296.8,504.3 L297.8,509.8 L298.2,504.0 L299.0,491.5 L299.8,506.6 M295.7,464.9 L296.2,464.7 L296.7,462.3 L297.3,473.3 L298.0,472.0 L298.8,479.2 L299.6,498.2" stroke="#2c4c86" stroke-width="0.78" fill="none" stroke-opacity="1.0" stroke-linejoin="round"/>
<path d="M295.4,478.9 L296.7,485.4 L298.2,493.0 L299.6,488.3 L300.9,500.5 L302.3,485.7 L303.3,475.9 L304.6,480.2 M295.9,481.0 L296.5,494.0 L297.1,485.6 L297.9,480.9 L298.5,477.0 L299.9,474.7 M295.7,481.9 L297.1,478.8 L298.1,477.6 L299.5,484.9 L300.7,477.1 L301.8,491.1 L303.3,494.7 L304.3,494.6 M295.2,512.1 L295.9,498.1 L297.1,495.4 L298.4,491.8 L299.4,485.8 L300.5,490.9 M296.2,471.8 L297.2,473.8 L298.5,485.3 L299.6,494.2 L300.1,484.6 L301.4,498.5 M295.4,495.4 L296.3,486.8 L297.3,507.5 L298.8,497.3 L299.3,499.5 M296.1,493.8 L297.4,498.7 L297.9,497.7 L299.1,501.7 L300.1,500.8 L300.7,510.1 L302.1,514.4 M296.1,499.5 L296.8,497.0 L297.5,499.5 L298.1,499.4 L298.8,501.5 L300.0,499.0 L300.7,497.4 L301.8,510.3 L303.1,514.0 L304.5,512.2 M295.7,474.3 L296.5,486.4 L297.1,501.2 L298.4,488.9 L299.0,481.3 L299.7,485.0 L301.0,479.0 L302.0,484.4 L302.5,495.5 L303.9,486.6 L305.0,482.9 M295.4,473.5 L296.3,478.1 L297.5,484.7 L298.9,486.0 L299.7,482.0 L300.9,485.9 L301.8,493.2 L302.4,502.0 L303.2,491.8" stroke="#2c4c86" stroke-width="0.78" fill="none" stroke-opacity="1.0" stroke-linejoin="round"/>
<path d="M296.7,494.8 L298.6,502.5 L300.5,500.0 L302.3,507.0 L304.2,508.6 L306.1,514.4 M295.5,467.2 L304.7,481.7 L313.8,495.6 L322.9,514.4 M296.1,482.6 L299.1,490.0 L302.1,490.5 L305.1,495.0 L308.1,506.4 L311.1,504.8 L314.1,514.4 M295.3,504.2 L296.0,499.5 L296.7,500.5 L297.5,505.1 L298.2,512.5 L298.9,510.0 L299.7,514.4 L300.4,514.4 M296.5,501.8 L298.6,500.7 L300.7,503.8 L302.7,508.4 L304.8,514.4 M296.3,475.5 L302.2,487.4 L308.0,491.1 L313.9,503.4 L319.7,514.4 M295.6,469.7 L305.3,479.2 L315.0,494.7 L324.8,514.4 M296.1,478.5 L302.1,487.6 L308.1,506.4 L314.1,514.4 M297.1,497.1 L298.7,500.4 L300.3,509.5 L302.0,500.2 L303.6,507.8 L305.2,514.4 M295.2,504.9 L295.7,514.4 L296.2,508.3 L296.6,507.9 L297.1,514.4 L297.6,514.4 L298.0,511.6 L298.5,514.4 M295.4,475.0 L301.2,486.6 L307.1,497.0 L313.0,507.5 L318.9,514.4 M296.7,501.0 L298.8,505.5 L300.9,499.1 L303.0,508.2 L305.2,514.4 M295.4,510.9 L295.8,514.4 L296.2,513.8 L296.7,513.0 L297.1,514.4 M296.5,500.5 L297.8,499.8 L299.0,508.6 L300.3,510.8 L301.6,514.4 M295.3,470.2 L298.9,483.1 L302.5,493.8 L306.1,505.7 L309.7,514.4 M296.5,513.0 L296.6,514.4 L296.8,511.6 L296.9,514.4 L297.0,509.6 L297.1,514.4 L297.2,514.4 M295.2,498.8 L297.8,503.7 L300.4,508.7 L303.0,506.6 L305.6,514.4 M295.3,491.7 L299.7,504.5 L304.0,507.9 L308.4,514.4 M297.0,463.3 L304.8,475.4 L312.6,494.4 L320.5,514.4 M296.0,511.7 L296.2,510.0 L296.5,507.8 L296.7,512.4 L297.0,512.4 L297.2,511.5 L297.4,511.2 L297.7,514.4 M297.0,500.1 L298.9,499.3 L300.7,500.7 L302.5,511.8 L304.3,505.7 L306.1,514.4 M296.0,512.5 L296.2,510.0 L296.4,514.4 L296.6,514.4 L296.7,514.4 L296.9,514.4 L297.1,514.4 L297.3,514.4 M296.4,462.6 L301.8,478.7 L307.2,480.5 L312.6,499.8 L318.0,503.6 L323.3,514.4 M295.5,507.7 L296.2,514.4 L296.9,514.4 L297.5,502.4 L298.2,505.5 L298.9,514.4 M295.3,486.5 L296.9,491.5 L298.5,500.3 L300.2,497.5 L301.8,496.8 L303.4,513.9 L305.0,514.4 M295.4,503.8 L296.1,509.8 L296.9,504.2 L297.6,502.6 L298.4,514.4 L299.1,514.4 M296.8,467.7 L301.2,480.8 L305.5,489.0 L309.9,495.2 L314.2,502.3 L318.6,514.4 M296.5,478.7 L298.8,496.9 L301.0,484.0 L303.3,489.3 L305.5,501.4 L307.8,506.6 L310.0,503.0 L312.3,514.4 M296.1,507.9 L296.6,510.2 L297.1,509.8 L297.6,514.4 L298.1,506.0 L298.6,511.8 L299.1,514.4 M296.9,501.9 L298.5,509.6 L300.1,504.3 L301.7,506.4 L303.4,511.9 L305.0,514.4 M295.3,489.1 L298.2,504.9 L301.2,507.1 L304.1,514.4 M297.0,467.6 L299.7,479.6 L302.4,481.8 L305.1,489.7 L307.8,495.1 L310.5,499.2 L313.3,509.6 L316.0,514.4 M295.9,472.4 L300.5,483.8 L305.1,488.2 L309.7,491.2 L314.3,500.3 L318.9,508.8 L323.5,514.4 M295.5,514.2 L295.5,510.9 L295.6,510.7 L295.6,514.4 M296.9,487.3 L298.4,493.9 L300.0,490.7 L301.5,500.8 L303.0,502.5 L304.5,502.6 L306.0,514.4 M297.1,510.8 L297.6,513.7 L298.0,509.3 L298.4,514.4 M295.5,470.9 L299.1,476.8 L302.7,490.1 L306.2,490.6 L309.8,503.7 L313.4,509.9 L316.9,514.4 M297.1,481.4 L301.8,485.5 L306.5,510.9 L311.1,514.4 M297.2,471.1 L301.6,476.0 L306.0,491.8 L310.4,496.7 L314.8,506.6 L319.2,514.4 M295.6,470.2 L299.3,470.0 L303.1,484.1 L306.8,495.2 L310.5,502.1 L314.2,514.4" stroke="#2c4c86" stroke-width="0.78" fill="none" stroke-opacity="1.0" stroke-linejoin="round"/>
<path d="M296.4,469.3 L300.0,468.4 L305.3,471.9 L309.7,470.2 L315.0,476.4 L321.2,482.5 M323.9,500.2 L334.5,500.2 L345.1,505.6 L353.9,509.1 L362.8,514.4 M345.1,506.4 L362.8,509.1 L371.6,512.6 M352.2,514.4 L361.0,507.3 M353.9,512.6 L362.8,507.3 M362.8,514.4 L378.7,506.4 M313.2,489.6 L318.5,496.7 L323.9,500.2" stroke="#2c4c86" stroke-width="0.85" fill="none" stroke-opacity="1.0" stroke-linejoin="round"/>
<path d="M324.4,462.2 L324.4,494.9" stroke="#6a7ca0" stroke-width="0.78" fill="none" stroke-opacity="1.0" stroke-linejoin="round"/>
<path d="M299.1,475.5 L300.0,479.0 L300.8,482.5" stroke="#a3174a" stroke-width="1.04" fill="none" stroke-opacity="1.0" stroke-linejoin="round"/>
</g>
<g clip-path="url(#cp21)">
<line x1="297.05" y1="581.61" x2="384.12" y2="581.61" stroke="#cc3a7e" stroke-width="0.9" stroke-dasharray="1.3,1.6"/>
<path d="M295.8,532.3 L296.5,561.2 L297.7,581.2 M296.5,548.5 L298.8,543.8 L302.3,537.4 L305.1,539.2 M295.8,581.2 L297.2,556.5 L298.8,576.2 L302.3,581.2 M296.3,542.7 L297.7,577.3" stroke="#4a6a98" stroke-width="1.17" fill="none" stroke-opacity="1.0" stroke-linejoin="round"/>
</g>
<g clip-path="url(#cp22)">
<line x1="312.10" y1="648.31" x2="384.12" y2="648.31" stroke="#cc3a7e" stroke-width="0.9" stroke-dasharray="1.3,1.6"/>
<path d="M309.7,608.6 L320.3,611.2 L335.4,616.5 L346.0,625.4 L356.6,632.5 L366.3,630.4 L374.3,642.2 M307.9,602.4 L307.9,625.4 M309.7,616.5 L312.4,618.3 L315.0,635.1 L323.9,636.9 L330.9,637.8 L338.9,635.1 L350.4,635.1 L361.0,642.2 L371.6,642.2 M315.0,634.2 L323.9,647.5 L332.7,638.7 M297.3,607.7 L307.9,621.9 L315.0,630.7 L320.3,641.3 L327.4,644.9 L336.2,647.5" stroke="#4a6a98" stroke-width="1.04" fill="none" stroke-opacity="1.0" stroke-linejoin="round"/>
<path d="M336.2,647.5 L357.5,647.5" stroke="#8d9ab5" stroke-width="1.82" fill="none" stroke-opacity="1.0" stroke-linejoin="round"/>
<path d="M297.4,620.0 L300.0,625.4 L302.7,631.1 L305.4,638.7 L308.1,648.0 M297.4,599.7 L309.5,622.0 L321.7,648.0 M296.1,598.4 L299.3,609.1 L302.6,623.1 L305.9,638.3 L309.2,648.0 M296.7,641.8 L297.5,638.9 L298.3,640.4 L299.1,643.9 L299.9,648.0 M295.7,645.8 L295.9,644.8 L296.1,648.0 L296.3,648.0 M295.0,607.3 L300.4,615.3 L305.8,627.2 L311.2,628.5 L316.5,648.0 M297.3,598.9 L304.4,618.8 L311.6,648.0 M295.7,638.1 L297.0,639.8 L298.3,641.6 L299.7,648.0" stroke="#e2a53c" stroke-width="0.98" fill="none" stroke-opacity="1.0" stroke-linejoin="round"/>
<path d="M297.5,596.3 L301.1,610.9 L304.7,622.0 L308.3,635.0 L311.9,648.0 M295.4,608.6 L301.8,625.5 L308.3,648.0 M297.5,647.5 L297.5,645.1 L297.6,648.0 L297.6,646.6 L297.6,648.0 M297.3,608.9 L302.6,629.9 L307.9,648.0" stroke="#d98b2b" stroke-width="0.98" fill="none" stroke-opacity="1.0" stroke-linejoin="round"/>
<path d="M309.7,646.6 L315.0,636.0 L320.3,625.4 M295.5,595.3 L304.4,611.2 L313.2,621.9 L320.3,639.6 L323.9,647.5" stroke="#e2a53c" stroke-width="1.04" fill="none" stroke-opacity="1.0" stroke-linejoin="round"/>
<path d="M294.9,615.8 L295.7,624.1 L296.5,636.1 L297.2,627.4 L297.5,635.9 L297.9,631.4 L298.8,642.0 M294.9,641.7 L295.4,633.9 L295.9,637.3 L296.8,641.9 L297.7,645.5 M295.2,629.7 L295.9,633.3 L296.3,638.8 L296.9,647.1 L297.5,646.0 L298.0,635.2 L298.5,639.0 L299.0,645.8 L299.9,648.0 M295.4,627.7 L295.8,643.6 L296.6,645.3 L297.0,644.9 L297.7,644.4 M295.0,614.1 L295.9,617.8 L296.6,621.6 L297.3,627.5 L298.2,637.6 L298.6,641.3 L299.0,647.1 M294.8,636.5 L295.4,637.0 L295.9,646.9 L296.5,644.9 L296.9,637.1 L297.3,633.8 L298.3,637.6 L298.7,644.9 L299.1,646.7 L299.9,648.0 M295.0,646.0 L295.6,648.5 L296.1,645.3 L296.9,647.8 L297.7,629.9 L298.1,638.6 L298.9,642.1 L299.4,648.0 M294.8,632.4 L295.3,631.2 L296.1,624.2 L296.7,636.9 L297.0,637.4 L297.4,636.4 L298.2,641.1 L298.6,646.8 L299.1,647.4 M295.1,636.0 L295.5,625.6 L296.5,643.8 L297.0,644.9 M295.6,634.0 L296.3,626.4 L297.3,627.3 L298.0,633.2 L298.7,643.4 L299.3,647.2 M295.3,619.7 L296.0,618.5 L296.7,622.4 L297.2,629.3 L298.1,633.1 M295.4,640.5 L295.9,647.1 L296.5,643.7 L297.0,632.9 L297.9,644.0 L298.6,645.1 M295.2,624.3 L295.7,619.4 L296.6,620.7 L297.1,628.2 L297.9,634.8 M295.3,637.2 L295.7,626.8 L296.3,646.9 L297.0,646.8 L297.8,643.1" stroke="#a3174a" stroke-width="0.91" fill="none" stroke-opacity="1.0" stroke-linejoin="round"/>
</g>
<g clip-path="url(#cp30)">
<line x1="495.40" y1="507.30" x2="511.52" y2="507.30" stroke="#cc3a7e" stroke-width="0.9" stroke-dasharray="1.3,1.6"/>
<path d="M422.6,477.4 L423.5,475.4 L424.3,468.7 M422.6,484.2 L423.6,485.8 L424.5,492.6 L425.1,487.2 M422.7,506.1 L423.1,503.6 L424.1,502.8 M422.7,500.6 L423.3,506.5 L423.9,503.4 L424.4,506.1 L425.1,502.1 L425.8,503.1 M422.7,479.3 L423.3,481.9 M423.0,477.2 L423.8,478.8 L424.6,481.3 L425.4,480.9 M423.1,503.2 L423.8,506.7 L424.6,506.7 M422.7,491.3 L423.4,494.2 L423.8,496.8 L424.5,504.5 L425.1,506.9 M423.2,473.0 L423.7,471.8 L424.5,471.2 L425.4,473.7 L426.3,473.0 M422.8,506.7 L423.4,503.1 L423.9,494.2 M423.1,486.9 L424.0,478.1 L424.4,478.3 M422.8,507.0 L423.4,503.1 L424.0,507.2 M422.5,478.8 L423.2,479.9 L423.8,478.0 L424.7,469.8 M422.5,485.2 L423.2,489.8 L424.1,486.6 L424.7,481.9 M422.9,475.0 L423.8,485.5 M422.7,467.4 L423.4,465.0 L424.3,472.3 L424.9,465.6 L425.5,476.5 M422.7,469.5 L423.5,462.8 L424.1,466.5 L424.9,467.1 L425.6,472.1 M423.0,463.5 L424.0,463.5 M422.8,483.5 L423.3,473.6 L424.1,472.4 M422.9,468.3 L423.4,463.5 L424.1,463.0 L424.6,473.3 L425.3,471.1 M422.6,492.8 L423.4,490.9 L424.3,486.8 L425.0,485.4 M423.1,487.8 L423.7,468.7 L424.6,476.4 L425.4,486.1 M422.4,504.3 L423.3,505.8 L423.8,506.6 L424.7,503.5 L425.4,503.1 L426.1,505.8 M423.1,493.3 L424.0,499.2 L424.6,504.5 L425.0,504.0" stroke="#2c4c86" stroke-width="0.78" fill="none" stroke-opacity="1.0" stroke-linejoin="round"/>
<path d="M422.5,490.3 L424.4,495.5 L426.2,497.5 L428.1,498.8 L429.9,507.3 M423.0,495.3 L424.2,501.5 L425.5,501.1 L426.7,505.0 L428.0,507.3 M424.3,498.8 L425.7,498.6 L427.1,500.4 L428.6,507.3 L430.0,507.3 M423.7,484.0 L427.4,487.1 L431.1,498.2 L434.7,497.6 L438.4,507.3 M424.1,504.6 L424.3,507.3 L424.6,505.5 L424.8,500.6 L425.1,506.8 L425.3,507.3 M423.2,472.3 L426.5,483.9 L429.8,483.6 L433.1,494.0 L436.3,496.1 L439.6,507.3 M423.9,498.1 L425.0,500.1 L426.0,501.9 L427.0,505.4 L428.0,503.8 L429.1,501.4 L430.1,507.3 M423.2,485.9 L425.6,487.7 L427.9,497.2 L430.3,502.4 L432.7,507.3 M423.8,478.1 L430.9,485.9 L437.9,497.3 L444.9,507.3 M422.6,474.9 L427.9,485.8 L433.1,488.9 L438.4,504.2 L443.6,507.3 M424.1,475.8 L429.7,479.9 L435.3,490.3 L440.8,498.3 L446.4,507.3 M424.0,475.4 L427.9,479.6 L431.8,487.3 L435.8,488.4 L439.7,493.2 L443.7,495.4 L447.6,507.3 M422.8,466.7 L428.5,475.1 L434.2,491.0 L439.9,494.9 L445.6,507.3 M422.6,494.8 L425.0,498.9 L427.4,497.3 L429.8,504.7 L432.2,507.3 M423.3,484.9 L428.8,498.4 L434.4,499.1 L440.0,507.3 M423.3,502.3 L424.4,501.9 L425.5,505.1 L426.6,507.3 M424.0,476.0 L429.3,485.6 L434.6,491.0 L440.0,498.7 L445.3,507.3 M424.0,506.4 L424.1,507.3 L424.2,507.3 L424.2,507.3 L424.3,507.0 L424.4,507.3 M424.1,501.5 L424.6,501.5 L425.2,505.0 L425.8,507.3 L426.3,507.3 M424.1,474.1 L429.0,484.1 L433.9,499.4 L438.8,507.3 M423.1,497.8 L425.4,501.1 L427.6,498.1 L429.8,507.3 M422.6,496.0 L423.7,499.8 L424.8,490.0 L425.9,501.9 L427.0,504.3 L428.1,505.6 L429.2,507.3 M424.3,479.9 L428.8,485.9 L433.3,494.2 L437.9,507.3 M423.9,492.7 L425.4,491.5 L426.9,496.7 L428.4,505.6 L429.9,507.1 L431.4,501.8 L432.9,507.3 M422.8,464.4 L427.9,478.7 L433.0,485.8 L438.1,499.9 L443.2,507.3 M424.2,481.6 L426.1,489.9 L427.9,488.9 L429.8,494.0 L431.7,504.0 L433.6,507.3 M422.7,475.7 L428.2,480.8 L433.7,493.4 L439.3,501.8 L444.8,507.3 M422.4,475.6 L425.9,479.7 L429.5,488.0 L433.0,495.5 L436.5,501.3 L440.1,507.3 M422.6,464.1 L428.1,478.6 L433.7,488.9 L439.2,502.9 L444.7,507.3 M422.5,494.9 L424.2,500.9 L425.9,497.9 L427.6,501.3 L429.3,507.3 M423.9,502.6 L424.2,500.9 L424.5,507.3 L424.9,502.6 L425.2,507.3 L425.5,507.3 L425.8,507.3 M423.0,491.3 L425.0,501.8 L427.0,492.9 L429.0,498.9 L431.0,504.0 L433.0,501.2 L435.0,507.3 M423.7,474.0 L430.1,477.6 L436.6,492.5 L443.0,498.7 L449.4,507.3 M423.4,481.4 L428.5,489.6 L433.6,494.7 L438.7,501.2 L443.8,507.3" stroke="#2c4c86" stroke-width="0.78" fill="none" stroke-opacity="1.0" stroke-linejoin="round"/>
<path d="M423.4,463.1 L429.6,470.2 L434.9,473.7 L442.0,479.0 L447.3,487.9 L454.4,493.2 L461.5,494.9 M457.9,507.3 L460.6,502.4 L470.3,507.3 M469.4,497.1 L477.4,507.3 L481.8,507.3 L489.8,499.4 L500.4,497.1 M472.1,502.9 L480.9,507.3 M489.8,507.3 L505.7,502.4 M429.6,479.0 L440.2,484.3 L447.3,493.2 L454.4,502.0" stroke="#2c4c86" stroke-width="0.85" fill="none" stroke-opacity="1.0" stroke-linejoin="round"/>
<path d="M451.2,471.0 L451.2,494.9" stroke="#6a7ca0" stroke-width="0.78" fill="none" stroke-opacity="1.0" stroke-linejoin="round"/>
<path d="M427.0,480.8 L427.8,485.2 L429.3,489.6" stroke="#a3174a" stroke-width="1.04" fill="none" stroke-opacity="1.0" stroke-linejoin="round"/>
</g>
<g clip-path="url(#cp31)">
<line x1="425.53" y1="574.00" x2="511.52" y2="574.00" stroke="#cc3a7e" stroke-width="0.9" stroke-dasharray="1.3,1.6"/>
<path d="M422.2,542.7 L423.2,561.2 L424.1,573.9 M422.7,547.3 L426.2,549.6 L428.5,554.2 L431.9,554.7 M421.8,573.9 L423.2,551.9 L425.0,565.8 L427.3,563.5 L429.6,573.9 M422.7,545.0 L424.5,570.4" stroke="#4a6a98" stroke-width="1.17" fill="none" stroke-opacity="1.0" stroke-linejoin="round"/>
<path d="M471.2,573.9 L500.0,573.9" stroke="#8d9ab5" stroke-width="2.08" fill="none" stroke-opacity="1.0" stroke-linejoin="round"/>
</g>
<g clip-path="url(#cp32)">
<line x1="437.35" y1="640.70" x2="511.52" y2="640.70" stroke="#cc3a7e" stroke-width="0.9" stroke-dasharray="1.3,1.6"/>
<path d="M436.7,599.7 L440.2,608.6 L454.4,611.2 L473.9,616.5 L484.5,627.2 L493.3,626.3 L504.0,640.4 M422.5,605.0 L429.6,614.8 L433.2,618.3 L437.6,616.5 L441.1,625.4 L459.7,635.1 M451.7,626.3 L465.0,626.3 L474.8,640.4 L484.5,626.3 L494.2,621.9 L504.0,640.4" stroke="#4a6a98" stroke-width="1.04" fill="none" stroke-opacity="1.0" stroke-linejoin="round"/>
<path d="M477.4,640.4 L497.8,640.4" stroke="#8d9ab5" stroke-width="1.82" fill="none" stroke-opacity="1.0" stroke-linejoin="round"/>
<path d="M422.5,627.1 L425.1,631.8 L427.6,632.8 L428.8,636.0 L430.8,636.0 L433.5,639.2 L436.1,639.4 L437.3,639.9 L439.5,640.5 M423.6,625.4 L424.8,626.1 L426.6,634.9 L428.8,634.8 L430.9,640.3 L433.9,639.2 L435.5,640.6 L436.6,639.8 L438.8,640.1 M422.7,635.2 L425.1,636.8 L426.1,640.6 L428.0,640.8 L430.3,639.5 L432.3,640.0 L434.0,640.1 L435.7,640.6 L437.3,639.1 L438.9,640.8 L441.0,638.7 L443.2,639.6 M423.1,622.0 L425.8,623.4 L428.4,627.8 L429.6,632.6 L432.2,636.9 L434.7,639.5 L436.4,639.8 L438.2,636.8 L439.5,638.0 L442.1,638.7 L443.5,639.5 M423.0,637.3 L424.8,637.3 L427.2,641.0 L429.3,639.2 L432.3,640.8 L434.1,639.3 L435.9,640.6 L437.9,640.1 L439.6,640.7 L440.7,640.4 L443.1,639.6 L444.4,640.3 M422.9,633.2 L424.9,634.0 L427.8,639.3 L430.6,640.4 L432.0,639.6 L433.1,640.0 L435.1,640.5 L437.8,640.9 L439.9,640.4 L442.9,639.7 M422.8,608.3 L425.7,611.6 L428.6,617.9 L430.5,623.1 L432.7,625.7 M423.8,620.2 L426.0,621.5 L427.9,620.7 L429.1,624.9 L431.0,627.5 L433.2,630.7 M422.4,635.4 L424.6,635.5 L427.4,635.5 L429.4,639.4 L432.2,640.2 L434.1,640.8 L435.3,640.0 L438.2,640.3 L439.9,639.1 L441.8,640.6 M423.4,607.5 L425.4,611.9 L426.5,614.2 L429.4,620.7 L430.9,622.7 L433.0,627.7 L434.9,626.9 L437.7,630.0" stroke="#e2a53c" stroke-width="0.98" fill="none" stroke-opacity="1.0" stroke-linejoin="round"/>
<path d="M423.4,612.0 L425.9,612.9 L427.3,614.4 M422.7,629.1 L424.4,631.3 L425.5,631.1 L428.1,634.0 M423.1,607.9 L425.8,609.7 L428.3,618.6 M422.7,610.2 L424.6,612.8 L426.2,613.6 L427.4,614.3 M423.7,606.4 L426.3,612.6 M423.9,607.2 L426.6,612.2 L429.3,622.1 L431.1,624.9 L432.2,625.9 L435.2,630.0" stroke="#d98b2b" stroke-width="0.98" fill="none" stroke-opacity="1.0" stroke-linejoin="round"/>
<path d="M452.6,635.1 L459.7,628.9 L466.8,622.7 M434.9,634.2 L436.2,641.3 L437.6,647.5 M433.2,637.8 L436.7,634.2 L440.2,639.6" stroke="#e2a53c" stroke-width="1.04" fill="none" stroke-opacity="1.0" stroke-linejoin="round"/>
<path d="M422.7,635.7 L423.4,634.8 L423.9,635.5 L424.7,635.4 L425.4,636.4 L425.8,637.5 L426.7,640.6 L427.6,640.1 M422.5,637.4 L422.9,640.2 L423.6,640.0 L424.3,638.8 L424.8,636.0 L425.2,637.0 L425.8,638.7 L426.4,639.2 M423.0,639.2 L423.6,640.0 L424.4,637.2 L424.9,637.8 L425.8,638.4 L426.2,638.8 M422.2,638.4 L423.1,639.8 L423.7,640.5 L424.2,640.2 L425.1,639.9 L425.9,638.7 L426.9,640.4 M422.2,639.2 L422.7,634.8 L423.4,640.3 L423.9,634.9 L424.5,640.8 L425.1,636.5 L425.7,640.4 L426.2,640.2 L426.6,640.9 M422.9,638.1 L423.5,639.0 L424.0,633.3 L424.7,640.6 L425.1,639.1 L425.8,638.6 L426.6,640.3 M422.2,640.0 L422.8,640.8 L423.7,638.3 L424.3,640.6 L425.2,640.3 M422.6,639.3 L423.6,640.0 L424.1,640.2 L424.7,639.2 L425.2,638.3 L426.1,639.5 L426.9,640.5 M422.5,633.4 L422.9,639.4 L423.8,640.9 L424.2,639.8 L424.8,640.2 L425.6,639.1 L426.5,640.8 M422.2,635.6 L422.7,635.5 L423.7,639.7 L424.3,641.0 L424.8,640.7 L425.8,640.7" stroke="#a3174a" stroke-width="1.04" fill="none" stroke-opacity="1.0" stroke-linejoin="round"/>
</g>
<rect x="36.30" y="451.70" width="90.0" height="6.6" fill="#d6bb92"/>
<line x1="36.30" y1="451.70" x2="126.30" y2="451.70" stroke="#1e1610" stroke-width="1.1"/>
<line x1="36.30" y1="458.30" x2="126.30" y2="458.30" stroke="#1e1610" stroke-width="1.1"/>
<text x="81.30" y="456.70" font-size="4.4" text-anchor="middle" fill="#1a1008" textLength="25.4" lengthAdjust="spacingAndGlyphs" stroke="#1a1008" stroke-width="0.15">Pediatric ALL</text>
<rect x="36.30" y="518.40" width="90.0" height="6.6" fill="#d6bb92"/>
<line x1="36.30" y1="518.40" x2="126.30" y2="518.40" stroke="#1e1610" stroke-width="1.1"/>
<line x1="36.30" y1="525.00" x2="126.30" y2="525.00" stroke="#1e1610" stroke-width="1.1"/>
<text x="81.30" y="523.40" font-size="4.4" text-anchor="middle" fill="#1a1008" textLength="18.4" lengthAdjust="spacingAndGlyphs" stroke="#1a1008" stroke-width="0.15">Adult ALL</text>
<rect x="36.30" y="585.10" width="90.0" height="6.6" fill="#d6bb92"/>
<line x1="36.30" y1="585.10" x2="126.30" y2="585.10" stroke="#1e1610" stroke-width="1.1"/>
<line x1="36.30" y1="591.70" x2="126.30" y2="591.70" stroke="#1e1610" stroke-width="1.1"/>
<text x="81.30" y="590.10" font-size="4.4" text-anchor="middle" fill="#1a1008" textLength="7.9" lengthAdjust="spacingAndGlyphs" stroke="#1a1008" stroke-width="0.15">CLL</text>
<rect x="36.30" y="451.70" width="90.0" height="200.10" fill="none" stroke="#000" stroke-width="1.3"/>
<line x1="38.80" y1="449.10" x2="38.80" y2="451.70" stroke="#000" stroke-width="0.8"/>
<line x1="38.80" y1="651.80" x2="38.80" y2="654.50" stroke="#000" stroke-width="0.8"/>
<text x="38.80" y="662.00" font-size="4.4" text-anchor="middle" fill="#111" textLength="2.4" lengthAdjust="spacingAndGlyphs" stroke="#111" stroke-width="0.12">0</text>
<line x1="60.30" y1="449.10" x2="60.30" y2="451.70" stroke="#000" stroke-width="0.8"/>
<line x1="60.30" y1="651.80" x2="60.30" y2="654.50" stroke="#000" stroke-width="0.8"/>
<text x="60.30" y="662.00" font-size="4.4" text-anchor="middle" fill="#111" textLength="7.2" lengthAdjust="spacingAndGlyphs" stroke="#111" stroke-width="0.12">200</text>
<line x1="81.80" y1="449.10" x2="81.80" y2="451.70" stroke="#000" stroke-width="0.8"/>
<line x1="81.80" y1="651.80" x2="81.80" y2="654.50" stroke="#000" stroke-width="0.8"/>
<text x="81.80" y="662.00" font-size="4.4" text-anchor="middle" fill="#111" textLength="7.2" lengthAdjust="spacingAndGlyphs" stroke="#111" stroke-width="0.12">400</text>
<line x1="103.30" y1="449.10" x2="103.30" y2="451.70" stroke="#000" stroke-width="0.8"/>
<line x1="103.30" y1="651.80" x2="103.30" y2="654.50" stroke="#000" stroke-width="0.8"/>
<text x="103.30" y="662.00" font-size="4.4" text-anchor="middle" fill="#111" textLength="7.2" lengthAdjust="spacingAndGlyphs" stroke="#111" stroke-width="0.12">600</text>
<line x1="124.80" y1="449.10" x2="124.80" y2="451.70" stroke="#000" stroke-width="0.8"/>
<line x1="124.80" y1="651.80" x2="124.80" y2="654.50" stroke="#000" stroke-width="0.8"/>
<text x="124.80" y="662.00" font-size="4.4" text-anchor="middle" fill="#111" textLength="7.2" lengthAdjust="spacingAndGlyphs" stroke="#111" stroke-width="0.12">800</text>
<path d="M35.0,516.8h1.3M126.3,516.8h1.3M35.0,515.5h1.3M126.3,515.5h1.3M35.0,514.5h1.3M126.3,514.5h1.3M35.0,513.7h1.3M126.3,513.7h1.3M35.0,512.9h1.3M126.3,512.9h1.3M35.0,512.3h1.3M126.3,512.3h1.3M35.0,511.8h1.3M126.3,511.8h1.3M35.0,508.1h1.3M126.3,508.1h1.3M35.0,506.2h1.3M126.3,506.2h1.3M35.0,504.9h1.3M126.3,504.9h1.3M35.0,503.9h1.3M126.3,503.9h1.3M35.0,503.1h1.3M126.3,503.1h1.3M35.0,502.3h1.3M126.3,502.3h1.3M35.0,501.7h1.3M126.3,501.7h1.3M35.0,501.2h1.3M126.3,501.2h1.3M35.0,497.5h1.3M126.3,497.5h1.3M35.0,495.6h1.3M126.3,495.6h1.3M35.0,494.3h1.3M126.3,494.3h1.3M35.0,493.3h1.3M126.3,493.3h1.3M35.0,492.5h1.3M126.3,492.5h1.3M35.0,491.7h1.3M126.3,491.7h1.3M35.0,491.1h1.3M126.3,491.1h1.3M35.0,490.6h1.3M126.3,490.6h1.3M35.0,486.9h1.3M126.3,486.9h1.3M35.0,485.0h1.3M126.3,485.0h1.3M35.0,483.7h1.3M126.3,483.7h1.3M35.0,482.7h1.3M126.3,482.7h1.3M35.0,481.9h1.3M126.3,481.9h1.3M35.0,481.1h1.3M126.3,481.1h1.3M35.0,480.5h1.3M126.3,480.5h1.3M35.0,480.0h1.3M126.3,480.0h1.3M35.0,476.3h1.3M126.3,476.3h1.3M35.0,474.4h1.3M126.3,474.4h1.3M35.0,473.1h1.3M126.3,473.1h1.3M35.0,472.1h1.3M126.3,472.1h1.3M35.0,471.3h1.3M126.3,471.3h1.3M35.0,470.5h1.3M126.3,470.5h1.3M35.0,469.9h1.3M126.3,469.9h1.3M35.0,469.4h1.3M126.3,469.4h1.3M35.0,465.7h1.3M126.3,465.7h1.3M35.0,463.8h1.3M126.3,463.8h1.3M35.0,462.5h1.3M126.3,462.5h1.3M35.0,461.5h1.3M126.3,461.5h1.3M35.0,460.7h1.3M126.3,460.7h1.3M35.0,459.9h1.3M126.3,459.9h1.3M35.0,459.3h1.3M126.3,459.3h1.3" stroke="#000" stroke-width="0.5"/>
<line x1="33.70" y1="511.30" x2="36.30" y2="511.30" stroke="#000" stroke-width="0.9"/>
<line x1="126.30" y1="511.30" x2="128.90" y2="511.30" stroke="#000" stroke-width="0.9"/>
<text x="30.10" y="512.80" font-size="4.3" text-anchor="end" fill="#111" textLength="4.6" lengthAdjust="spacingAndGlyphs" stroke="#111" stroke-width="0.12">10</text>
<line x1="33.70" y1="500.70" x2="36.30" y2="500.70" stroke="#000" stroke-width="0.9"/>
<line x1="126.30" y1="500.70" x2="128.90" y2="500.70" stroke="#000" stroke-width="0.9"/>
<text x="30.10" y="502.20" font-size="4.3" text-anchor="end" fill="#111" textLength="6.9" lengthAdjust="spacingAndGlyphs" stroke="#111" stroke-width="0.12">100</text>
<line x1="33.70" y1="490.10" x2="36.30" y2="490.10" stroke="#000" stroke-width="0.9"/>
<line x1="126.30" y1="490.10" x2="128.90" y2="490.10" stroke="#000" stroke-width="0.9"/>
<text x="30.10" y="491.60" font-size="4.3" text-anchor="end" fill="#111" textLength="9.3" lengthAdjust="spacingAndGlyphs" stroke="#111" stroke-width="0.12">1000</text>
<line x1="33.70" y1="479.50" x2="36.30" y2="479.50" stroke="#000" stroke-width="0.9"/>
<line x1="126.30" y1="479.50" x2="128.90" y2="479.50" stroke="#000" stroke-width="0.9"/>
<text x="30.10" y="481.00" font-size="4.3" text-anchor="end" fill="#111" textLength="11.6" lengthAdjust="spacingAndGlyphs" stroke="#111" stroke-width="0.12">10000</text>
<line x1="33.70" y1="468.90" x2="36.30" y2="468.90" stroke="#000" stroke-width="0.9"/>
<line x1="126.30" y1="468.90" x2="128.90" y2="468.90" stroke="#000" stroke-width="0.9"/>
<text x="30.10" y="470.40" font-size="4.3" text-anchor="end" fill="#111" textLength="11.6" lengthAdjust="spacingAndGlyphs" stroke="#111" stroke-width="0.12">1e+05</text>
<path d="M35.0,583.5h1.3M126.3,583.5h1.3M35.0,582.2h1.3M126.3,582.2h1.3M35.0,581.2h1.3M126.3,581.2h1.3M35.0,580.4h1.3M126.3,580.4h1.3M35.0,579.6h1.3M126.3,579.6h1.3M35.0,579.0h1.3M126.3,579.0h1.3M35.0,578.5h1.3M126.3,578.5h1.3M35.0,574.8h1.3M126.3,574.8h1.3M35.0,572.9h1.3M126.3,572.9h1.3M35.0,571.6h1.3M126.3,571.6h1.3M35.0,570.6h1.3M126.3,570.6h1.3M35.0,569.8h1.3M126.3,569.8h1.3M35.0,569.0h1.3M126.3,569.0h1.3M35.0,568.4h1.3M126.3,568.4h1.3M35.0,567.9h1.3M126.3,567.9h1.3M35.0,564.2h1.3M126.3,564.2h1.3M35.0,562.3h1.3M126.3,562.3h1.3M35.0,561.0h1.3M126.3,561.0h1.3M35.0,560.0h1.3M126.3,560.0h1.3M35.0,559.2h1.3M126.3,559.2h1.3M35.0,558.4h1.3M126.3,558.4h1.3M35.0,557.8h1.3M126.3,557.8h1.3M35.0,557.3h1.3M126.3,557.3h1.3M35.0,553.6h1.3M126.3,553.6h1.3M35.0,551.7h1.3M126.3,551.7h1.3M35.0,550.4h1.3M126.3,550.4h1.3M35.0,549.4h1.3M126.3,549.4h1.3M35.0,548.6h1.3M126.3,548.6h1.3M35.0,547.8h1.3M126.3,547.8h1.3M35.0,547.2h1.3M126.3,547.2h1.3M35.0,546.7h1.3M126.3,546.7h1.3M35.0,543.0h1.3M126.3,543.0h1.3M35.0,541.1h1.3M126.3,541.1h1.3M35.0,539.8h1.3M126.3,539.8h1.3M35.0,538.8h1.3M126.3,538.8h1.3M35.0,538.0h1.3M126.3,538.0h1.3M35.0,537.2h1.3M126.3,537.2h1.3M35.0,536.6h1.3M126.3,536.6h1.3M35.0,536.1h1.3M126.3,536.1h1.3M35.0,532.4h1.3M126.3,532.4h1.3M35.0,530.5h1.3M126.3,530.5h1.3M35.0,529.2h1.3M126.3,529.2h1.3M35.0,528.2h1.3M126.3,528.2h1.3M35.0,527.4h1.3M126.3,527.4h1.3M35.0,526.6h1.3M126.3,526.6h1.3M35.0,526.0h1.3M126.3,526.0h1.3" stroke="#000" stroke-width="0.5"/>
<line x1="33.70" y1="578.00" x2="36.30" y2="578.00" stroke="#000" stroke-width="0.9"/>
<line x1="126.30" y1="578.00" x2="128.90" y2="578.00" stroke="#000" stroke-width="0.9"/>
<text x="30.10" y="579.50" font-size="4.3" text-anchor="end" fill="#111" textLength="4.6" lengthAdjust="spacingAndGlyphs" stroke="#111" stroke-width="0.12">10</text>
<line x1="33.70" y1="567.40" x2="36.30" y2="567.40" stroke="#000" stroke-width="0.9"/>
<line x1="126.30" y1="567.40" x2="128.90" y2="567.40" stroke="#000" stroke-width="0.9"/>
<text x="30.10" y="568.90" font-size="4.3" text-anchor="end" fill="#111" textLength="6.9" lengthAdjust="spacingAndGlyphs" stroke="#111" stroke-width="0.12">100</text>
<line x1="33.70" y1="556.80" x2="36.30" y2="556.80" stroke="#000" stroke-width="0.9"/>
<line x1="126.30" y1="556.80" x2="128.90" y2="556.80" stroke="#000" stroke-width="0.9"/>
<text x="30.10" y="558.30" font-size="4.3" text-anchor="end" fill="#111" textLength="9.3" lengthAdjust="spacingAndGlyphs" stroke="#111" stroke-width="0.12">1000</text>
<line x1="33.70" y1="546.20" x2="36.30" y2="546.20" stroke="#000" stroke-width="0.9"/>
<line x1="126.30" y1="546.20" x2="128.90" y2="546.20" stroke="#000" stroke-width="0.9"/>
<text x="30.10" y="547.70" font-size="4.3" text-anchor="end" fill="#111" textLength="11.6" lengthAdjust="spacingAndGlyphs" stroke="#111" stroke-width="0.12">10000</text>
<line x1="33.70" y1="535.60" x2="36.30" y2="535.60" stroke="#000" stroke-width="0.9"/>
<line x1="126.30" y1="535.60" x2="128.90" y2="535.60" stroke="#000" stroke-width="0.9"/>
<text x="30.10" y="537.10" font-size="4.3" text-anchor="end" fill="#111" textLength="11.6" lengthAdjust="spacingAndGlyphs" stroke="#111" stroke-width="0.12">1e+05</text>
<path d="M35.0,650.2h1.3M126.3,650.2h1.3M35.0,648.9h1.3M126.3,648.9h1.3M35.0,647.9h1.3M126.3,647.9h1.3M35.0,647.1h1.3M126.3,647.1h1.3M35.0,646.3h1.3M126.3,646.3h1.3M35.0,645.7h1.3M126.3,645.7h1.3M35.0,645.2h1.3M126.3,645.2h1.3M35.0,641.5h1.3M126.3,641.5h1.3M35.0,639.6h1.3M126.3,639.6h1.3M35.0,638.3h1.3M126.3,638.3h1.3M35.0,637.3h1.3M126.3,637.3h1.3M35.0,636.5h1.3M126.3,636.5h1.3M35.0,635.7h1.3M126.3,635.7h1.3M35.0,635.1h1.3M126.3,635.1h1.3M35.0,634.6h1.3M126.3,634.6h1.3M35.0,630.9h1.3M126.3,630.9h1.3M35.0,629.0h1.3M126.3,629.0h1.3M35.0,627.7h1.3M126.3,627.7h1.3M35.0,626.7h1.3M126.3,626.7h1.3M35.0,625.9h1.3M126.3,625.9h1.3M35.0,625.1h1.3M126.3,625.1h1.3M35.0,624.5h1.3M126.3,624.5h1.3M35.0,624.0h1.3M126.3,624.0h1.3M35.0,620.3h1.3M126.3,620.3h1.3M35.0,618.4h1.3M126.3,618.4h1.3M35.0,617.1h1.3M126.3,617.1h1.3M35.0,616.1h1.3M126.3,616.1h1.3M35.0,615.3h1.3M126.3,615.3h1.3M35.0,614.5h1.3M126.3,614.5h1.3M35.0,613.9h1.3M126.3,613.9h1.3M35.0,613.4h1.3M126.3,613.4h1.3M35.0,609.7h1.3M126.3,609.7h1.3M35.0,607.8h1.3M126.3,607.8h1.3M35.0,606.5h1.3M126.3,606.5h1.3M35.0,605.5h1.3M126.3,605.5h1.3M35.0,604.7h1.3M126.3,604.7h1.3M35.0,603.9h1.3M126.3,603.9h1.3M35.0,603.3h1.3M126.3,603.3h1.3M35.0,602.8h1.3M126.3,602.8h1.3M35.0,599.1h1.3M126.3,599.1h1.3M35.0,597.2h1.3M126.3,597.2h1.3M35.0,595.9h1.3M126.3,595.9h1.3M35.0,594.9h1.3M126.3,594.9h1.3M35.0,594.1h1.3M126.3,594.1h1.3M35.0,593.3h1.3M126.3,593.3h1.3M35.0,592.7h1.3M126.3,592.7h1.3" stroke="#000" stroke-width="0.5"/>
<line x1="33.70" y1="644.70" x2="36.30" y2="644.70" stroke="#000" stroke-width="0.9"/>
<line x1="126.30" y1="644.70" x2="128.90" y2="644.70" stroke="#000" stroke-width="0.9"/>
<text x="30.10" y="646.20" font-size="4.3" text-anchor="end" fill="#111" textLength="4.6" lengthAdjust="spacingAndGlyphs" stroke="#111" stroke-width="0.12">10</text>
<line x1="33.70" y1="634.10" x2="36.30" y2="634.10" stroke="#000" stroke-width="0.9"/>
<line x1="126.30" y1="634.10" x2="128.90" y2="634.10" stroke="#000" stroke-width="0.9"/>
<text x="30.10" y="635.60" font-size="4.3" text-anchor="end" fill="#111" textLength="6.9" lengthAdjust="spacingAndGlyphs" stroke="#111" stroke-width="0.12">100</text>
<line x1="33.70" y1="623.50" x2="36.30" y2="623.50" stroke="#000" stroke-width="0.9"/>
<line x1="126.30" y1="623.50" x2="128.90" y2="623.50" stroke="#000" stroke-width="0.9"/>
<text x="30.10" y="625.00" font-size="4.3" text-anchor="end" fill="#111" textLength="9.3" lengthAdjust="spacingAndGlyphs" stroke="#111" stroke-width="0.12">1000</text>
<line x1="33.70" y1="612.90" x2="36.30" y2="612.90" stroke="#000" stroke-width="0.9"/>
<line x1="126.30" y1="612.90" x2="128.90" y2="612.90" stroke="#000" stroke-width="0.9"/>
<text x="30.10" y="614.40" font-size="4.3" text-anchor="end" fill="#111" textLength="11.6" lengthAdjust="spacingAndGlyphs" stroke="#111" stroke-width="0.12">10000</text>
<line x1="33.70" y1="602.30" x2="36.30" y2="602.30" stroke="#000" stroke-width="0.9"/>
<line x1="126.30" y1="602.30" x2="128.90" y2="602.30" stroke="#000" stroke-width="0.9"/>
<text x="30.10" y="603.80" font-size="4.3" text-anchor="end" fill="#111" textLength="11.6" lengthAdjust="spacingAndGlyphs" stroke="#111" stroke-width="0.12">1e+05</text>
<rect x="164.20" y="451.70" width="90.0" height="6.6" fill="#d6bb92"/>
<line x1="164.20" y1="451.70" x2="254.20" y2="451.70" stroke="#1e1610" stroke-width="1.1"/>
<line x1="164.20" y1="458.30" x2="254.20" y2="458.30" stroke="#1e1610" stroke-width="1.1"/>
<text x="209.20" y="456.70" font-size="4.4" text-anchor="middle" fill="#1a1008" textLength="25.4" lengthAdjust="spacingAndGlyphs" stroke="#1a1008" stroke-width="0.15">Pediatric ALL</text>
<rect x="164.20" y="518.40" width="90.0" height="6.6" fill="#d6bb92"/>
<line x1="164.20" y1="518.40" x2="254.20" y2="518.40" stroke="#1e1610" stroke-width="1.1"/>
<line x1="164.20" y1="525.00" x2="254.20" y2="525.00" stroke="#1e1610" stroke-width="1.1"/>
<text x="209.20" y="523.40" font-size="4.4" text-anchor="middle" fill="#1a1008" textLength="18.4" lengthAdjust="spacingAndGlyphs" stroke="#1a1008" stroke-width="0.15">Adult ALL</text>
<rect x="164.20" y="585.10" width="90.0" height="6.6" fill="#d6bb92"/>
<line x1="164.20" y1="585.10" x2="254.20" y2="585.10" stroke="#1e1610" stroke-width="1.1"/>
<line x1="164.20" y1="591.70" x2="254.20" y2="591.70" stroke="#1e1610" stroke-width="1.1"/>
<text x="209.20" y="590.10" font-size="4.4" text-anchor="middle" fill="#1a1008" textLength="7.9" lengthAdjust="spacingAndGlyphs" stroke="#1a1008" stroke-width="0.15">CLL</text>
<rect x="164.20" y="451.70" width="90.0" height="200.10" fill="none" stroke="#000" stroke-width="1.3"/>
<line x1="166.70" y1="449.10" x2="166.70" y2="451.70" stroke="#000" stroke-width="0.8"/>
<line x1="166.70" y1="651.80" x2="166.70" y2="654.50" stroke="#000" stroke-width="0.8"/>
<text x="166.70" y="662.00" font-size="4.4" text-anchor="middle" fill="#111" textLength="2.4" lengthAdjust="spacingAndGlyphs" stroke="#111" stroke-width="0.12">0</text>
<line x1="188.20" y1="449.10" x2="188.20" y2="451.70" stroke="#000" stroke-width="0.8"/>
<line x1="188.20" y1="651.80" x2="188.20" y2="654.50" stroke="#000" stroke-width="0.8"/>
<text x="188.20" y="662.00" font-size="4.4" text-anchor="middle" fill="#111" textLength="7.2" lengthAdjust="spacingAndGlyphs" stroke="#111" stroke-width="0.12">200</text>
<line x1="209.70" y1="449.10" x2="209.70" y2="451.70" stroke="#000" stroke-width="0.8"/>
<line x1="209.70" y1="651.80" x2="209.70" y2="654.50" stroke="#000" stroke-width="0.8"/>
<text x="209.70" y="662.00" font-size="4.4" text-anchor="middle" fill="#111" textLength="7.2" lengthAdjust="spacingAndGlyphs" stroke="#111" stroke-width="0.12">400</text>
<line x1="231.20" y1="449.10" x2="231.20" y2="451.70" stroke="#000" stroke-width="0.8"/>
<line x1="231.20" y1="651.80" x2="231.20" y2="654.50" stroke="#000" stroke-width="0.8"/>
<text x="231.20" y="662.00" font-size="4.4" text-anchor="middle" fill="#111" textLength="7.2" lengthAdjust="spacingAndGlyphs" stroke="#111" stroke-width="0.12">600</text>
<line x1="252.70" y1="449.10" x2="252.70" y2="451.70" stroke="#000" stroke-width="0.8"/>
<line x1="252.70" y1="651.80" x2="252.70" y2="654.50" stroke="#000" stroke-width="0.8"/>
<text x="252.70" y="662.00" font-size="4.4" text-anchor="middle" fill="#111" textLength="7.2" lengthAdjust="spacingAndGlyphs" stroke="#111" stroke-width="0.12">800</text>
<path d="M162.9,517.7h1.3M254.2,517.7h1.3M162.9,516.7h1.3M254.2,516.7h1.3M162.9,515.7h1.3M254.2,515.7h1.3M162.9,509.4h1.3M254.2,509.4h1.3M162.9,506.2h1.3M254.2,506.2h1.3M162.9,504.0h1.3M254.2,504.0h1.3M162.9,502.2h1.3M254.2,502.2h1.3M162.9,500.8h1.3M254.2,500.8h1.3M162.9,499.6h1.3M254.2,499.6h1.3M162.9,498.5h1.3M254.2,498.5h1.3M162.9,497.6h1.3M254.2,497.6h1.3M162.9,491.3h1.3M254.2,491.3h1.3M162.9,488.1h1.3M254.2,488.1h1.3M162.9,485.8h1.3M254.2,485.8h1.3M162.9,484.0h1.3M254.2,484.0h1.3M162.9,482.6h1.3M254.2,482.6h1.3M162.9,481.4h1.3M254.2,481.4h1.3M162.9,480.3h1.3M254.2,480.3h1.3M162.9,479.4h1.3M254.2,479.4h1.3M162.9,473.1h1.3M254.2,473.1h1.3M162.9,469.9h1.3M254.2,469.9h1.3M162.9,467.6h1.3M254.2,467.6h1.3M162.9,465.9h1.3M254.2,465.9h1.3M162.9,464.4h1.3M254.2,464.4h1.3M162.9,463.2h1.3M254.2,463.2h1.3M162.9,462.2h1.3M254.2,462.2h1.3M162.9,461.2h1.3M254.2,461.2h1.3" stroke="#000" stroke-width="0.5"/>
<line x1="161.60" y1="460.40" x2="164.20" y2="460.40" stroke="#000" stroke-width="0.9"/>
<line x1="254.20" y1="460.40" x2="256.80" y2="460.40" stroke="#000" stroke-width="0.9"/>
<text x="158.00" y="461.90" font-size="4.3" text-anchor="end" fill="#111" textLength="6.9" lengthAdjust="spacingAndGlyphs" stroke="#111" stroke-width="0.12">100</text>
<line x1="161.60" y1="478.57" x2="164.20" y2="478.57" stroke="#000" stroke-width="0.9"/>
<line x1="254.20" y1="478.57" x2="256.80" y2="478.57" stroke="#000" stroke-width="0.9"/>
<text x="158.00" y="480.07" font-size="4.3" text-anchor="end" fill="#111" textLength="4.6" lengthAdjust="spacingAndGlyphs" stroke="#111" stroke-width="0.12">10</text>
<line x1="161.60" y1="496.74" x2="164.20" y2="496.74" stroke="#000" stroke-width="0.9"/>
<line x1="254.20" y1="496.74" x2="256.80" y2="496.74" stroke="#000" stroke-width="0.9"/>
<text x="158.00" y="498.24" font-size="4.3" text-anchor="end" fill="#111" textLength="2.3" lengthAdjust="spacingAndGlyphs" stroke="#111" stroke-width="0.12">1</text>
<line x1="161.60" y1="514.91" x2="164.20" y2="514.91" stroke="#000" stroke-width="0.9"/>
<line x1="254.20" y1="514.91" x2="256.80" y2="514.91" stroke="#000" stroke-width="0.9"/>
<text x="158.00" y="516.41" font-size="4.3" text-anchor="end" fill="#111" textLength="5.8" lengthAdjust="spacingAndGlyphs" stroke="#111" stroke-width="0.12">0.1</text>
<path d="M162.9,584.4h1.3M254.2,584.4h1.3M162.9,583.4h1.3M254.2,583.4h1.3M162.9,582.4h1.3M254.2,582.4h1.3M162.9,576.1h1.3M254.2,576.1h1.3M162.9,572.9h1.3M254.2,572.9h1.3M162.9,570.7h1.3M254.2,570.7h1.3M162.9,568.9h1.3M254.2,568.9h1.3M162.9,567.5h1.3M254.2,567.5h1.3M162.9,566.3h1.3M254.2,566.3h1.3M162.9,565.2h1.3M254.2,565.2h1.3M162.9,564.3h1.3M254.2,564.3h1.3M162.9,558.0h1.3M254.2,558.0h1.3M162.9,554.8h1.3M254.2,554.8h1.3M162.9,552.5h1.3M254.2,552.5h1.3M162.9,550.7h1.3M254.2,550.7h1.3M162.9,549.3h1.3M254.2,549.3h1.3M162.9,548.1h1.3M254.2,548.1h1.3M162.9,547.0h1.3M254.2,547.0h1.3M162.9,546.1h1.3M254.2,546.1h1.3M162.9,539.8h1.3M254.2,539.8h1.3M162.9,536.6h1.3M254.2,536.6h1.3M162.9,534.3h1.3M254.2,534.3h1.3M162.9,532.6h1.3M254.2,532.6h1.3M162.9,531.1h1.3M254.2,531.1h1.3M162.9,529.9h1.3M254.2,529.9h1.3M162.9,528.9h1.3M254.2,528.9h1.3M162.9,527.9h1.3M254.2,527.9h1.3" stroke="#000" stroke-width="0.5"/>
<line x1="161.60" y1="527.10" x2="164.20" y2="527.10" stroke="#000" stroke-width="0.9"/>
<line x1="254.20" y1="527.10" x2="256.80" y2="527.10" stroke="#000" stroke-width="0.9"/>
<text x="158.00" y="528.60" font-size="4.3" text-anchor="end" fill="#111" textLength="6.9" lengthAdjust="spacingAndGlyphs" stroke="#111" stroke-width="0.12">100</text>
<line x1="161.60" y1="545.27" x2="164.20" y2="545.27" stroke="#000" stroke-width="0.9"/>
<line x1="254.20" y1="545.27" x2="256.80" y2="545.27" stroke="#000" stroke-width="0.9"/>
<text x="158.00" y="546.77" font-size="4.3" text-anchor="end" fill="#111" textLength="4.6" lengthAdjust="spacingAndGlyphs" stroke="#111" stroke-width="0.12">10</text>
<line x1="161.60" y1="563.44" x2="164.20" y2="563.44" stroke="#000" stroke-width="0.9"/>
<line x1="254.20" y1="563.44" x2="256.80" y2="563.44" stroke="#000" stroke-width="0.9"/>
<text x="158.00" y="564.94" font-size="4.3" text-anchor="end" fill="#111" textLength="2.3" lengthAdjust="spacingAndGlyphs" stroke="#111" stroke-width="0.12">1</text>
<line x1="161.60" y1="581.61" x2="164.20" y2="581.61" stroke="#000" stroke-width="0.9"/>
<line x1="254.20" y1="581.61" x2="256.80" y2="581.61" stroke="#000" stroke-width="0.9"/>
<text x="158.00" y="583.11" font-size="4.3" text-anchor="end" fill="#111" textLength="5.8" lengthAdjust="spacingAndGlyphs" stroke="#111" stroke-width="0.12">0.1</text>
<path d="M162.9,651.1h1.3M254.2,651.1h1.3M162.9,650.1h1.3M254.2,650.1h1.3M162.9,649.1h1.3M254.2,649.1h1.3M162.9,642.8h1.3M254.2,642.8h1.3M162.9,639.6h1.3M254.2,639.6h1.3M162.9,637.4h1.3M254.2,637.4h1.3M162.9,635.6h1.3M254.2,635.6h1.3M162.9,634.2h1.3M254.2,634.2h1.3M162.9,633.0h1.3M254.2,633.0h1.3M162.9,631.9h1.3M254.2,631.9h1.3M162.9,631.0h1.3M254.2,631.0h1.3M162.9,624.7h1.3M254.2,624.7h1.3M162.9,621.5h1.3M254.2,621.5h1.3M162.9,619.2h1.3M254.2,619.2h1.3M162.9,617.4h1.3M254.2,617.4h1.3M162.9,616.0h1.3M254.2,616.0h1.3M162.9,614.8h1.3M254.2,614.8h1.3M162.9,613.7h1.3M254.2,613.7h1.3M162.9,612.8h1.3M254.2,612.8h1.3M162.9,606.5h1.3M254.2,606.5h1.3M162.9,603.3h1.3M254.2,603.3h1.3M162.9,601.0h1.3M254.2,601.0h1.3M162.9,599.3h1.3M254.2,599.3h1.3M162.9,597.8h1.3M254.2,597.8h1.3M162.9,596.6h1.3M254.2,596.6h1.3M162.9,595.6h1.3M254.2,595.6h1.3M162.9,594.6h1.3M254.2,594.6h1.3" stroke="#000" stroke-width="0.5"/>
<line x1="161.60" y1="593.80" x2="164.20" y2="593.80" stroke="#000" stroke-width="0.9"/>
<line x1="254.20" y1="593.80" x2="256.80" y2="593.80" stroke="#000" stroke-width="0.9"/>
<text x="158.00" y="595.30" font-size="4.3" text-anchor="end" fill="#111" textLength="6.9" lengthAdjust="spacingAndGlyphs" stroke="#111" stroke-width="0.12">100</text>
<line x1="161.60" y1="611.97" x2="164.20" y2="611.97" stroke="#000" stroke-width="0.9"/>
<line x1="254.20" y1="611.97" x2="256.80" y2="611.97" stroke="#000" stroke-width="0.9"/>
<text x="158.00" y="613.47" font-size="4.3" text-anchor="end" fill="#111" textLength="4.6" lengthAdjust="spacingAndGlyphs" stroke="#111" stroke-width="0.12">10</text>
<line x1="161.60" y1="630.14" x2="164.20" y2="630.14" stroke="#000" stroke-width="0.9"/>
<line x1="254.20" y1="630.14" x2="256.80" y2="630.14" stroke="#000" stroke-width="0.9"/>
<text x="158.00" y="631.64" font-size="4.3" text-anchor="end" fill="#111" textLength="2.3" lengthAdjust="spacingAndGlyphs" stroke="#111" stroke-width="0.12">1</text>
<line x1="161.60" y1="648.31" x2="164.20" y2="648.31" stroke="#000" stroke-width="0.9"/>
<line x1="254.20" y1="648.31" x2="256.80" y2="648.31" stroke="#000" stroke-width="0.9"/>
<text x="158.00" y="649.81" font-size="4.3" text-anchor="end" fill="#111" textLength="5.8" lengthAdjust="spacingAndGlyphs" stroke="#111" stroke-width="0.12">0.1</text>
<rect x="292.40" y="451.70" width="90.0" height="6.6" fill="#d6bb92"/>
<line x1="292.40" y1="451.70" x2="382.40" y2="451.70" stroke="#1e1610" stroke-width="1.1"/>
<line x1="292.40" y1="458.30" x2="382.40" y2="458.30" stroke="#1e1610" stroke-width="1.1"/>
<text x="337.40" y="456.70" font-size="4.4" text-anchor="middle" fill="#1a1008" textLength="25.4" lengthAdjust="spacingAndGlyphs" stroke="#1a1008" stroke-width="0.15">Pediatric ALL</text>
<rect x="292.40" y="518.40" width="90.0" height="6.6" fill="#d6bb92"/>
<line x1="292.40" y1="518.40" x2="382.40" y2="518.40" stroke="#1e1610" stroke-width="1.1"/>
<line x1="292.40" y1="525.00" x2="382.40" y2="525.00" stroke="#1e1610" stroke-width="1.1"/>
<text x="337.40" y="523.40" font-size="4.4" text-anchor="middle" fill="#1a1008" textLength="18.4" lengthAdjust="spacingAndGlyphs" stroke="#1a1008" stroke-width="0.15">Adult ALL</text>
<rect x="292.40" y="585.10" width="90.0" height="6.6" fill="#d6bb92"/>
<line x1="292.40" y1="585.10" x2="382.40" y2="585.10" stroke="#1e1610" stroke-width="1.1"/>
<line x1="292.40" y1="591.70" x2="382.40" y2="591.70" stroke="#1e1610" stroke-width="1.1"/>
<text x="337.40" y="590.10" font-size="4.4" text-anchor="middle" fill="#1a1008" textLength="7.9" lengthAdjust="spacingAndGlyphs" stroke="#1a1008" stroke-width="0.15">CLL</text>
<rect x="292.40" y="451.70" width="90.0" height="200.10" fill="none" stroke="#000" stroke-width="1.3"/>
<line x1="294.90" y1="449.10" x2="294.90" y2="451.70" stroke="#000" stroke-width="0.8"/>
<line x1="294.90" y1="651.80" x2="294.90" y2="654.50" stroke="#000" stroke-width="0.8"/>
<text x="294.90" y="662.00" font-size="4.4" text-anchor="middle" fill="#111" textLength="2.4" lengthAdjust="spacingAndGlyphs" stroke="#111" stroke-width="0.12">0</text>
<line x1="316.40" y1="449.10" x2="316.40" y2="451.70" stroke="#000" stroke-width="0.8"/>
<line x1="316.40" y1="651.80" x2="316.40" y2="654.50" stroke="#000" stroke-width="0.8"/>
<text x="316.40" y="662.00" font-size="4.4" text-anchor="middle" fill="#111" textLength="7.2" lengthAdjust="spacingAndGlyphs" stroke="#111" stroke-width="0.12">200</text>
<line x1="337.90" y1="449.10" x2="337.90" y2="451.70" stroke="#000" stroke-width="0.8"/>
<line x1="337.90" y1="651.80" x2="337.90" y2="654.50" stroke="#000" stroke-width="0.8"/>
<text x="337.90" y="662.00" font-size="4.4" text-anchor="middle" fill="#111" textLength="7.2" lengthAdjust="spacingAndGlyphs" stroke="#111" stroke-width="0.12">400</text>
<line x1="359.40" y1="449.10" x2="359.40" y2="451.70" stroke="#000" stroke-width="0.8"/>
<line x1="359.40" y1="651.80" x2="359.40" y2="654.50" stroke="#000" stroke-width="0.8"/>
<text x="359.40" y="662.00" font-size="4.4" text-anchor="middle" fill="#111" textLength="7.2" lengthAdjust="spacingAndGlyphs" stroke="#111" stroke-width="0.12">600</text>
<line x1="380.90" y1="449.10" x2="380.90" y2="451.70" stroke="#000" stroke-width="0.8"/>
<line x1="380.90" y1="651.80" x2="380.90" y2="654.50" stroke="#000" stroke-width="0.8"/>
<text x="380.90" y="662.00" font-size="4.4" text-anchor="middle" fill="#111" textLength="7.2" lengthAdjust="spacingAndGlyphs" stroke="#111" stroke-width="0.12">800</text>
<path d="M291.1,517.7h1.3M382.4,517.7h1.3M291.1,516.7h1.3M382.4,516.7h1.3M291.1,515.7h1.3M382.4,515.7h1.3M291.1,509.4h1.3M382.4,509.4h1.3M291.1,506.2h1.3M382.4,506.2h1.3M291.1,504.0h1.3M382.4,504.0h1.3M291.1,502.2h1.3M382.4,502.2h1.3M291.1,500.8h1.3M382.4,500.8h1.3M291.1,499.6h1.3M382.4,499.6h1.3M291.1,498.5h1.3M382.4,498.5h1.3M291.1,497.6h1.3M382.4,497.6h1.3M291.1,491.3h1.3M382.4,491.3h1.3M291.1,488.1h1.3M382.4,488.1h1.3M291.1,485.8h1.3M382.4,485.8h1.3M291.1,484.0h1.3M382.4,484.0h1.3M291.1,482.6h1.3M382.4,482.6h1.3M291.1,481.4h1.3M382.4,481.4h1.3M291.1,480.3h1.3M382.4,480.3h1.3M291.1,479.4h1.3M382.4,479.4h1.3M291.1,473.1h1.3M382.4,473.1h1.3M291.1,469.9h1.3M382.4,469.9h1.3M291.1,467.6h1.3M382.4,467.6h1.3M291.1,465.9h1.3M382.4,465.9h1.3M291.1,464.4h1.3M382.4,464.4h1.3M291.1,463.2h1.3M382.4,463.2h1.3M291.1,462.2h1.3M382.4,462.2h1.3M291.1,461.2h1.3M382.4,461.2h1.3" stroke="#000" stroke-width="0.5"/>
<line x1="289.80" y1="460.40" x2="292.40" y2="460.40" stroke="#000" stroke-width="0.9"/>
<line x1="382.40" y1="460.40" x2="385.00" y2="460.40" stroke="#000" stroke-width="0.9"/>
<text x="286.20" y="461.90" font-size="4.3" text-anchor="end" fill="#111" textLength="6.9" lengthAdjust="spacingAndGlyphs" stroke="#111" stroke-width="0.12">100</text>
<line x1="289.80" y1="478.57" x2="292.40" y2="478.57" stroke="#000" stroke-width="0.9"/>
<line x1="382.40" y1="478.57" x2="385.00" y2="478.57" stroke="#000" stroke-width="0.9"/>
<text x="286.20" y="480.07" font-size="4.3" text-anchor="end" fill="#111" textLength="4.6" lengthAdjust="spacingAndGlyphs" stroke="#111" stroke-width="0.12">10</text>
<line x1="289.80" y1="496.74" x2="292.40" y2="496.74" stroke="#000" stroke-width="0.9"/>
<line x1="382.40" y1="496.74" x2="385.00" y2="496.74" stroke="#000" stroke-width="0.9"/>
<text x="286.20" y="498.24" font-size="4.3" text-anchor="end" fill="#111" textLength="2.3" lengthAdjust="spacingAndGlyphs" stroke="#111" stroke-width="0.12">1</text>
<line x1="289.80" y1="514.91" x2="292.40" y2="514.91" stroke="#000" stroke-width="0.9"/>
<line x1="382.40" y1="514.91" x2="385.00" y2="514.91" stroke="#000" stroke-width="0.9"/>
<text x="286.20" y="516.41" font-size="4.3" text-anchor="end" fill="#111" textLength="5.8" lengthAdjust="spacingAndGlyphs" stroke="#111" stroke-width="0.12">0.1</text>
<path d="M291.1,584.4h1.3M382.4,584.4h1.3M291.1,583.4h1.3M382.4,583.4h1.3M291.1,582.4h1.3M382.4,582.4h1.3M291.1,576.1h1.3M382.4,576.1h1.3M291.1,572.9h1.3M382.4,572.9h1.3M291.1,570.7h1.3M382.4,570.7h1.3M291.1,568.9h1.3M382.4,568.9h1.3M291.1,567.5h1.3M382.4,567.5h1.3M291.1,566.3h1.3M382.4,566.3h1.3M291.1,565.2h1.3M382.4,565.2h1.3M291.1,564.3h1.3M382.4,564.3h1.3M291.1,558.0h1.3M382.4,558.0h1.3M291.1,554.8h1.3M382.4,554.8h1.3M291.1,552.5h1.3M382.4,552.5h1.3M291.1,550.7h1.3M382.4,550.7h1.3M291.1,549.3h1.3M382.4,549.3h1.3M291.1,548.1h1.3M382.4,548.1h1.3M291.1,547.0h1.3M382.4,547.0h1.3M291.1,546.1h1.3M382.4,546.1h1.3M291.1,539.8h1.3M382.4,539.8h1.3M291.1,536.6h1.3M382.4,536.6h1.3M291.1,534.3h1.3M382.4,534.3h1.3M291.1,532.6h1.3M382.4,532.6h1.3M291.1,531.1h1.3M382.4,531.1h1.3M291.1,529.9h1.3M382.4,529.9h1.3M291.1,528.9h1.3M382.4,528.9h1.3M291.1,527.9h1.3M382.4,527.9h1.3" stroke="#000" stroke-width="0.5"/>
<line x1="289.80" y1="527.10" x2="292.40" y2="527.10" stroke="#000" stroke-width="0.9"/>
<line x1="382.40" y1="527.10" x2="385.00" y2="527.10" stroke="#000" stroke-width="0.9"/>
<text x="286.20" y="528.60" font-size="4.3" text-anchor="end" fill="#111" textLength="6.9" lengthAdjust="spacingAndGlyphs" stroke="#111" stroke-width="0.12">100</text>
<line x1="289.80" y1="545.27" x2="292.40" y2="545.27" stroke="#000" stroke-width="0.9"/>
<line x1="382.40" y1="545.27" x2="385.00" y2="545.27" stroke="#000" stroke-width="0.9"/>
<text x="286.20" y="546.77" font-size="4.3" text-anchor="end" fill="#111" textLength="4.6" lengthAdjust="spacingAndGlyphs" stroke="#111" stroke-width="0.12">10</text>
<line x1="289.80" y1="563.44" x2="292.40" y2="563.44" stroke="#000" stroke-width="0.9"/>
<line x1="382.40" y1="563.44" x2="385.00" y2="563.44" stroke="#000" stroke-width="0.9"/>
<text x="286.20" y="564.94" font-size="4.3" text-anchor="end" fill="#111" textLength="2.3" lengthAdjust="spacingAndGlyphs" stroke="#111" stroke-width="0.12">1</text>
<line x1="289.80" y1="581.61" x2="292.40" y2="581.61" stroke="#000" stroke-width="0.9"/>
<line x1="382.40" y1="581.61" x2="385.00" y2="581.61" stroke="#000" stroke-width="0.9"/>
<text x="286.20" y="583.11" font-size="4.3" text-anchor="end" fill="#111" textLength="5.8" lengthAdjust="spacingAndGlyphs" stroke="#111" stroke-width="0.12">0.1</text>
<path d="M291.1,651.1h1.3M382.4,651.1h1.3M291.1,650.1h1.3M382.4,650.1h1.3M291.1,649.1h1.3M382.4,649.1h1.3M291.1,642.8h1.3M382.4,642.8h1.3M291.1,639.6h1.3M382.4,639.6h1.3M291.1,637.4h1.3M382.4,637.4h1.3M291.1,635.6h1.3M382.4,635.6h1.3M291.1,634.2h1.3M382.4,634.2h1.3M291.1,633.0h1.3M382.4,633.0h1.3M291.1,631.9h1.3M382.4,631.9h1.3M291.1,631.0h1.3M382.4,631.0h1.3M291.1,624.7h1.3M382.4,624.7h1.3M291.1,621.5h1.3M382.4,621.5h1.3M291.1,619.2h1.3M382.4,619.2h1.3M291.1,617.4h1.3M382.4,617.4h1.3M291.1,616.0h1.3M382.4,616.0h1.3M291.1,614.8h1.3M382.4,614.8h1.3M291.1,613.7h1.3M382.4,613.7h1.3M291.1,612.8h1.3M382.4,612.8h1.3M291.1,606.5h1.3M382.4,606.5h1.3M291.1,603.3h1.3M382.4,603.3h1.3M291.1,601.0h1.3M382.4,601.0h1.3M291.1,599.3h1.3M382.4,599.3h1.3M291.1,597.8h1.3M382.4,597.8h1.3M291.1,596.6h1.3M382.4,596.6h1.3M291.1,595.6h1.3M382.4,595.6h1.3M291.1,594.6h1.3M382.4,594.6h1.3" stroke="#000" stroke-width="0.5"/>
<line x1="289.80" y1="593.80" x2="292.40" y2="593.80" stroke="#000" stroke-width="0.9"/>
<line x1="382.40" y1="593.80" x2="385.00" y2="593.80" stroke="#000" stroke-width="0.9"/>
<text x="286.20" y="595.30" font-size="4.3" text-anchor="end" fill="#111" textLength="6.9" lengthAdjust="spacingAndGlyphs" stroke="#111" stroke-width="0.12">100</text>
<line x1="289.80" y1="611.97" x2="292.40" y2="611.97" stroke="#000" stroke-width="0.9"/>
<line x1="382.40" y1="611.97" x2="385.00" y2="611.97" stroke="#000" stroke-width="0.9"/>
<text x="286.20" y="613.47" font-size="4.3" text-anchor="end" fill="#111" textLength="4.6" lengthAdjust="spacingAndGlyphs" stroke="#111" stroke-width="0.12">10</text>
<line x1="289.80" y1="630.14" x2="292.40" y2="630.14" stroke="#000" stroke-width="0.9"/>
<line x1="382.40" y1="630.14" x2="385.00" y2="630.14" stroke="#000" stroke-width="0.9"/>
<text x="286.20" y="631.64" font-size="4.3" text-anchor="end" fill="#111" textLength="2.3" lengthAdjust="spacingAndGlyphs" stroke="#111" stroke-width="0.12">1</text>
<line x1="289.80" y1="648.31" x2="292.40" y2="648.31" stroke="#000" stroke-width="0.9"/>
<line x1="382.40" y1="648.31" x2="385.00" y2="648.31" stroke="#000" stroke-width="0.9"/>
<text x="286.20" y="649.81" font-size="4.3" text-anchor="end" fill="#111" textLength="5.8" lengthAdjust="spacingAndGlyphs" stroke="#111" stroke-width="0.12">0.1</text>
<rect x="419.80" y="451.70" width="90.0" height="6.6" fill="#d6bb92"/>
<line x1="419.80" y1="451.70" x2="509.80" y2="451.70" stroke="#1e1610" stroke-width="1.1"/>
<line x1="419.80" y1="458.30" x2="509.80" y2="458.30" stroke="#1e1610" stroke-width="1.1"/>
<text x="464.80" y="456.70" font-size="4.4" text-anchor="middle" fill="#1a1008" textLength="25.4" lengthAdjust="spacingAndGlyphs" stroke="#1a1008" stroke-width="0.15">Pediatric ALL</text>
<rect x="419.80" y="518.40" width="90.0" height="6.6" fill="#d6bb92"/>
<line x1="419.80" y1="518.40" x2="509.80" y2="518.40" stroke="#1e1610" stroke-width="1.1"/>
<line x1="419.80" y1="525.00" x2="509.80" y2="525.00" stroke="#1e1610" stroke-width="1.1"/>
<text x="464.80" y="523.40" font-size="4.4" text-anchor="middle" fill="#1a1008" textLength="18.4" lengthAdjust="spacingAndGlyphs" stroke="#1a1008" stroke-width="0.15">Adult ALL</text>
<rect x="419.80" y="585.10" width="90.0" height="6.6" fill="#d6bb92"/>
<line x1="419.80" y1="585.10" x2="509.80" y2="585.10" stroke="#1e1610" stroke-width="1.1"/>
<line x1="419.80" y1="591.70" x2="509.80" y2="591.70" stroke="#1e1610" stroke-width="1.1"/>
<text x="464.80" y="590.10" font-size="4.4" text-anchor="middle" fill="#1a1008" textLength="7.9" lengthAdjust="spacingAndGlyphs" stroke="#1a1008" stroke-width="0.15">CLL</text>
<rect x="419.80" y="451.70" width="90.0" height="200.10" fill="none" stroke="#000" stroke-width="1.3"/>
<line x1="422.30" y1="449.10" x2="422.30" y2="451.70" stroke="#000" stroke-width="0.8"/>
<line x1="422.30" y1="651.80" x2="422.30" y2="654.50" stroke="#000" stroke-width="0.8"/>
<text x="422.30" y="662.00" font-size="4.4" text-anchor="middle" fill="#111" textLength="2.4" lengthAdjust="spacingAndGlyphs" stroke="#111" stroke-width="0.12">0</text>
<line x1="443.80" y1="449.10" x2="443.80" y2="451.70" stroke="#000" stroke-width="0.8"/>
<line x1="443.80" y1="651.80" x2="443.80" y2="654.50" stroke="#000" stroke-width="0.8"/>
<text x="443.80" y="662.00" font-size="4.4" text-anchor="middle" fill="#111" textLength="7.2" lengthAdjust="spacingAndGlyphs" stroke="#111" stroke-width="0.12">200</text>
<line x1="465.30" y1="449.10" x2="465.30" y2="451.70" stroke="#000" stroke-width="0.8"/>
<line x1="465.30" y1="651.80" x2="465.30" y2="654.50" stroke="#000" stroke-width="0.8"/>
<text x="465.30" y="662.00" font-size="4.4" text-anchor="middle" fill="#111" textLength="7.2" lengthAdjust="spacingAndGlyphs" stroke="#111" stroke-width="0.12">400</text>
<line x1="486.80" y1="449.10" x2="486.80" y2="451.70" stroke="#000" stroke-width="0.8"/>
<line x1="486.80" y1="651.80" x2="486.80" y2="654.50" stroke="#000" stroke-width="0.8"/>
<text x="486.80" y="662.00" font-size="4.4" text-anchor="middle" fill="#111" textLength="7.2" lengthAdjust="spacingAndGlyphs" stroke="#111" stroke-width="0.12">600</text>
<line x1="508.30" y1="449.10" x2="508.30" y2="451.70" stroke="#000" stroke-width="0.8"/>
<line x1="508.30" y1="651.80" x2="508.30" y2="654.50" stroke="#000" stroke-width="0.8"/>
<text x="508.30" y="662.00" font-size="4.4" text-anchor="middle" fill="#111" textLength="7.2" lengthAdjust="spacingAndGlyphs" stroke="#111" stroke-width="0.12">800</text>
<path d="M418.5,516.3h1.3M509.8,516.3h1.3M418.5,514.1h1.3M509.8,514.1h1.3M418.5,512.5h1.3M509.8,512.5h1.3M418.5,511.1h1.3M509.8,511.1h1.3M418.5,510.0h1.3M509.8,510.0h1.3M418.5,509.0h1.3M509.8,509.0h1.3M418.5,508.1h1.3M509.8,508.1h1.3M418.5,502.1h1.3M509.8,502.1h1.3M418.5,499.1h1.3M509.8,499.1h1.3M418.5,497.0h1.3M509.8,497.0h1.3M418.5,495.3h1.3M509.8,495.3h1.3M418.5,494.0h1.3M509.8,494.0h1.3M418.5,492.8h1.3M509.8,492.8h1.3M418.5,491.8h1.3M509.8,491.8h1.3M418.5,490.9h1.3M509.8,490.9h1.3M418.5,485.0h1.3M509.8,485.0h1.3M418.5,482.0h1.3M509.8,482.0h1.3M418.5,479.8h1.3M509.8,479.8h1.3M418.5,478.2h1.3M509.8,478.2h1.3M418.5,476.8h1.3M509.8,476.8h1.3M418.5,475.7h1.3M509.8,475.7h1.3M418.5,474.7h1.3M509.8,474.7h1.3M418.5,473.8h1.3M509.8,473.8h1.3M418.5,467.8h1.3M509.8,467.8h1.3M418.5,464.8h1.3M509.8,464.8h1.3M418.5,462.7h1.3M509.8,462.7h1.3M418.5,461.0h1.3M509.8,461.0h1.3M418.5,459.7h1.3M509.8,459.7h1.3" stroke="#000" stroke-width="0.5"/>
<line x1="417.20" y1="473.00" x2="419.80" y2="473.00" stroke="#000" stroke-width="0.9"/>
<line x1="509.80" y1="473.00" x2="512.40" y2="473.00" stroke="#000" stroke-width="0.9"/>
<text x="413.60" y="474.50" font-size="4.3" text-anchor="end" fill="#111" textLength="4.6" lengthAdjust="spacingAndGlyphs" stroke="#111" stroke-width="0.12">10</text>
<line x1="417.20" y1="490.15" x2="419.80" y2="490.15" stroke="#000" stroke-width="0.9"/>
<line x1="509.80" y1="490.15" x2="512.40" y2="490.15" stroke="#000" stroke-width="0.9"/>
<text x="413.60" y="491.65" font-size="4.3" text-anchor="end" fill="#111" textLength="2.3" lengthAdjust="spacingAndGlyphs" stroke="#111" stroke-width="0.12">1</text>
<line x1="417.20" y1="507.30" x2="419.80" y2="507.30" stroke="#000" stroke-width="0.9"/>
<line x1="509.80" y1="507.30" x2="512.40" y2="507.30" stroke="#000" stroke-width="0.9"/>
<text x="413.60" y="508.80" font-size="4.3" text-anchor="end" fill="#111" textLength="5.8" lengthAdjust="spacingAndGlyphs" stroke="#111" stroke-width="0.12">0.1</text>
<path d="M418.5,583.0h1.3M509.8,583.0h1.3M418.5,580.8h1.3M509.8,580.8h1.3M418.5,579.2h1.3M509.8,579.2h1.3M418.5,577.8h1.3M509.8,577.8h1.3M418.5,576.7h1.3M509.8,576.7h1.3M418.5,575.7h1.3M509.8,575.7h1.3M418.5,574.8h1.3M509.8,574.8h1.3M418.5,568.8h1.3M509.8,568.8h1.3M418.5,565.8h1.3M509.8,565.8h1.3M418.5,563.7h1.3M509.8,563.7h1.3M418.5,562.0h1.3M509.8,562.0h1.3M418.5,560.7h1.3M509.8,560.7h1.3M418.5,559.5h1.3M509.8,559.5h1.3M418.5,558.5h1.3M509.8,558.5h1.3M418.5,557.6h1.3M509.8,557.6h1.3M418.5,551.7h1.3M509.8,551.7h1.3M418.5,548.7h1.3M509.8,548.7h1.3M418.5,546.5h1.3M509.8,546.5h1.3M418.5,544.9h1.3M509.8,544.9h1.3M418.5,543.5h1.3M509.8,543.5h1.3M418.5,542.4h1.3M509.8,542.4h1.3M418.5,541.4h1.3M509.8,541.4h1.3M418.5,540.5h1.3M509.8,540.5h1.3M418.5,534.5h1.3M509.8,534.5h1.3M418.5,531.5h1.3M509.8,531.5h1.3M418.5,529.4h1.3M509.8,529.4h1.3M418.5,527.7h1.3M509.8,527.7h1.3M418.5,526.4h1.3M509.8,526.4h1.3" stroke="#000" stroke-width="0.5"/>
<line x1="417.20" y1="539.70" x2="419.80" y2="539.70" stroke="#000" stroke-width="0.9"/>
<line x1="509.80" y1="539.70" x2="512.40" y2="539.70" stroke="#000" stroke-width="0.9"/>
<text x="413.60" y="541.20" font-size="4.3" text-anchor="end" fill="#111" textLength="4.6" lengthAdjust="spacingAndGlyphs" stroke="#111" stroke-width="0.12">10</text>
<line x1="417.20" y1="556.85" x2="419.80" y2="556.85" stroke="#000" stroke-width="0.9"/>
<line x1="509.80" y1="556.85" x2="512.40" y2="556.85" stroke="#000" stroke-width="0.9"/>
<text x="413.60" y="558.35" font-size="4.3" text-anchor="end" fill="#111" textLength="2.3" lengthAdjust="spacingAndGlyphs" stroke="#111" stroke-width="0.12">1</text>
<line x1="417.20" y1="574.00" x2="419.80" y2="574.00" stroke="#000" stroke-width="0.9"/>
<line x1="509.80" y1="574.00" x2="512.40" y2="574.00" stroke="#000" stroke-width="0.9"/>
<text x="413.60" y="575.50" font-size="4.3" text-anchor="end" fill="#111" textLength="5.8" lengthAdjust="spacingAndGlyphs" stroke="#111" stroke-width="0.12">0.1</text>
<path d="M418.5,649.7h1.3M509.8,649.7h1.3M418.5,647.5h1.3M509.8,647.5h1.3M418.5,645.9h1.3M509.8,645.9h1.3M418.5,644.5h1.3M509.8,644.5h1.3M418.5,643.4h1.3M509.8,643.4h1.3M418.5,642.4h1.3M509.8,642.4h1.3M418.5,641.5h1.3M509.8,641.5h1.3M418.5,635.5h1.3M509.8,635.5h1.3M418.5,632.5h1.3M509.8,632.5h1.3M418.5,630.4h1.3M509.8,630.4h1.3M418.5,628.7h1.3M509.8,628.7h1.3M418.5,627.4h1.3M509.8,627.4h1.3M418.5,626.2h1.3M509.8,626.2h1.3M418.5,625.2h1.3M509.8,625.2h1.3M418.5,624.3h1.3M509.8,624.3h1.3M418.5,618.4h1.3M509.8,618.4h1.3M418.5,615.4h1.3M509.8,615.4h1.3M418.5,613.2h1.3M509.8,613.2h1.3M418.5,611.6h1.3M509.8,611.6h1.3M418.5,610.2h1.3M509.8,610.2h1.3M418.5,609.1h1.3M509.8,609.1h1.3M418.5,608.1h1.3M509.8,608.1h1.3M418.5,607.2h1.3M509.8,607.2h1.3M418.5,601.2h1.3M509.8,601.2h1.3M418.5,598.2h1.3M509.8,598.2h1.3M418.5,596.1h1.3M509.8,596.1h1.3M418.5,594.4h1.3M509.8,594.4h1.3M418.5,593.1h1.3M509.8,593.1h1.3" stroke="#000" stroke-width="0.5"/>
<line x1="417.20" y1="606.40" x2="419.80" y2="606.40" stroke="#000" stroke-width="0.9"/>
<line x1="509.80" y1="606.40" x2="512.40" y2="606.40" stroke="#000" stroke-width="0.9"/>
<text x="413.60" y="607.90" font-size="4.3" text-anchor="end" fill="#111" textLength="4.6" lengthAdjust="spacingAndGlyphs" stroke="#111" stroke-width="0.12">10</text>
<line x1="417.20" y1="623.55" x2="419.80" y2="623.55" stroke="#000" stroke-width="0.9"/>
<line x1="509.80" y1="623.55" x2="512.40" y2="623.55" stroke="#000" stroke-width="0.9"/>
<text x="413.60" y="625.05" font-size="4.3" text-anchor="end" fill="#111" textLength="2.3" lengthAdjust="spacingAndGlyphs" stroke="#111" stroke-width="0.12">1</text>
<line x1="417.20" y1="640.70" x2="419.80" y2="640.70" stroke="#000" stroke-width="0.9"/>
<line x1="509.80" y1="640.70" x2="512.40" y2="640.70" stroke="#000" stroke-width="0.9"/>
<text x="413.60" y="642.20" font-size="4.3" text-anchor="end" fill="#111" textLength="5.8" lengthAdjust="spacingAndGlyphs" stroke="#111" stroke-width="0.12">0.1</text>
<text x="81.30" y="436.30" font-size="7.7" text-anchor="middle" font-style="italic" fill="#111" textLength="23.1" lengthAdjust="spacingAndGlyphs" stroke="#111" stroke-width="0.2">qPCR-</text>
<text x="81.30" y="445.10" font-size="7.7" text-anchor="middle" font-style="italic" fill="#111" textLength="36.2" lengthAdjust="spacingAndGlyphs" stroke="#111" stroke-width="0.2">Transgene</text>
<text x="209.50" y="435.60" font-size="7.7" text-anchor="middle" font-style="italic" fill="#111" textLength="53.5" lengthAdjust="spacingAndGlyphs" stroke="#111" stroke-width="0.2">Flow Cytometry</text>
<text x="209.50" y="445.30" font-size="7.7" text-anchor="middle" font-style="italic" fill="#111" textLength="71.4" lengthAdjust="spacingAndGlyphs" stroke="#111" stroke-width="0.2">CD3+CTL019+ Cells</text>
<text x="337.70" y="435.60" font-size="7.7" text-anchor="middle" font-style="italic" fill="#111" textLength="53.5" lengthAdjust="spacingAndGlyphs" stroke="#111" stroke-width="0.2">Flow Cytometry</text>
<text x="337.70" y="445.30" font-size="7.7" text-anchor="middle" font-style="italic" fill="#111" textLength="90.8" lengthAdjust="spacingAndGlyphs" stroke="#111" stroke-width="0.2">CD3+CD8+CTL019+ Cells</text>
<text x="464.60" y="435.60" font-size="7.7" text-anchor="middle" font-style="italic" fill="#111" textLength="53.5" lengthAdjust="spacingAndGlyphs" stroke="#111" stroke-width="0.2">Flow Cytometry</text>
<text x="464.60" y="445.30" font-size="7.7" text-anchor="middle" font-style="italic" fill="#111" textLength="89.3" lengthAdjust="spacingAndGlyphs" stroke="#111" stroke-width="0.2">CD3+CD8-CTL019+ Cells</text>
<g transform="translate(12.9,554.9) rotate(-90)">
<text x="0.00" y="0.00" font-size="7.0" text-anchor="middle" fill="#111" textLength="147.8" lengthAdjust="spacingAndGlyphs" stroke="#111" stroke-width="0.15">Transgene, copies/µg of genomic DNA in peripheral blood</text>
</g>
<g transform="translate(146.9,554.6) rotate(-90)">
<text x="0.00" y="0.00" font-size="6.7" text-anchor="middle" fill="#111" textLength="57.0" lengthAdjust="spacingAndGlyphs" stroke="#111" stroke-width="0.15">% CD3+CTL019+ cells</text>
</g>
<g transform="translate(274.1,551.1) rotate(-90)">
<text x="0.00" y="0.00" font-size="6.7" text-anchor="middle" fill="#111" textLength="71.5" lengthAdjust="spacingAndGlyphs" stroke="#111" stroke-width="0.15">% CD3+CD8+CTL019+ cells</text>
</g>
<g transform="translate(402.8,550.3) rotate(-90)">
<text x="0.00" y="0.00" font-size="6.7" text-anchor="middle" fill="#111" textLength="71.0" lengthAdjust="spacingAndGlyphs" stroke="#111" stroke-width="0.15">% CD3+CD8-CTL019+ cells</text>
</g>
<text x="239.30" y="671.30" font-size="5.9" font-style="italic" fill="#111" textLength="69.3" lengthAdjust="spacingAndGlyphs" stroke="#111" stroke-width="0.2">Days post CTL019 infusion</text>
<rect x="0.7" y="0.7" width="518.3" height="678.3" fill="none" stroke="#000" stroke-width="1.6"/>
</svg>
</body></html>
